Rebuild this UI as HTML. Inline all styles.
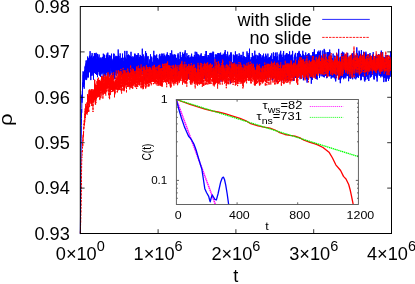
<!DOCTYPE html>
<html><head><meta charset="utf-8"><title>plot</title>
<style>html,body{margin:0;padding:0;background:#fff;}svg{display:block;will-change:transform;}text{font-family:"Liberation Sans", sans-serif;fill:#000;}</style></head><body>
<svg width="415" height="284" viewBox="0 0 415 284">
<rect x="0" y="0" width="415" height="284" fill="#fff"/>
<text x="69.8" y="12.7" font-size="18.2" text-anchor="end">0.98</text>
<text x="69.8" y="58.1" font-size="18.2" text-anchor="end">0.97</text>
<text x="69.8" y="103.5" font-size="18.2" text-anchor="end">0.96</text>
<text x="69.8" y="148.9" font-size="18.2" text-anchor="end">0.95</text>
<text x="69.8" y="194.3" font-size="18.2" text-anchor="end">0.94</text>
<text x="69.8" y="239.7" font-size="18.2" text-anchor="end">0.93</text>
<text x="80.3" y="259.7" font-size="18.2" text-anchor="middle">0×10<tspan font-size="14.5" dy="-8.3">0</tspan></text>
<text x="158.1" y="259.7" font-size="18.2" text-anchor="middle">1×10<tspan font-size="14.5" dy="-8.3">6</tspan></text>
<text x="235.9" y="259.7" font-size="18.2" text-anchor="middle">2×10<tspan font-size="14.5" dy="-8.3">6</tspan></text>
<text x="313.7" y="259.7" font-size="18.2" text-anchor="middle">3×10<tspan font-size="14.5" dy="-8.3">6</tspan></text>
<text x="391.5" y="259.7" font-size="18.2" text-anchor="middle">4×10<tspan font-size="14.5" dy="-8.3">6</tspan></text>
<text x="235.8" y="281.9" font-size="18.2" text-anchor="middle">t</text>
<text transform="translate(12.2,119.7) rotate(-90) scale(1.22,1)" font-size="18.2" text-anchor="middle">ρ</text>
<path d="M80.3,234.1L80.4,226.4L80.5,216.0L80.5,207.4L80.6,198.3L80.7,193.0L80.8,183.7L80.8,175.8L80.9,168.6L81.0,160.3L81.1,154.3L81.1,148.1L81.2,138.8L81.3,135.0L81.4,125.7L81.5,118.8L81.5,110.4L81.6,109.1L81.7,112.8L81.8,109.1L81.8,108.3L81.9,94.7L82.0,102.7L82.1,95.9L82.1,99.7L82.2,96.9L82.3,91.5L82.4,90.7L82.5,97.3L82.5,82.7L82.6,83.7L82.7,86.3L82.8,82.9L82.8,84.2L82.9,84.7L83.0,86.8L83.1,71.3L83.1,86.5L83.2,76.0L83.3,74.7L83.4,86.8L83.5,72.2L83.5,75.3L83.6,73.2L83.7,73.0L83.8,79.1L83.8,72.3L83.9,82.6L84.0,72.9L84.1,80.8L84.1,86.4L84.2,88.7L84.3,82.8L84.4,84.4L84.5,70.0L84.5,70.1L84.6,75.8L84.7,76.0L84.8,76.2L84.8,72.7L84.9,76.9L85.0,71.2L85.1,66.6L85.1,76.9L85.2,70.4L85.3,65.7L85.4,68.8L85.5,75.0L85.5,66.1L85.6,77.5L85.7,69.7L85.8,70.7L85.8,76.9L85.9,79.6L86.0,63.5L86.1,78.5L86.1,60.5L86.2,80.1L86.3,64.5L86.4,70.9L86.5,68.2L86.5,70.0L86.6,76.3L86.7,79.3L86.8,61.8L86.8,62.6L86.9,69.0L87.0,66.7L87.1,60.3L87.1,66.0L87.2,71.8L87.3,63.8L87.4,61.7L87.5,68.6L87.5,64.9L87.6,71.0L87.7,56.5L87.8,67.0L87.8,72.0L87.9,77.5L88.0,70.3L88.1,77.1L88.1,66.1L88.2,77.3L88.3,72.7L88.4,66.2L88.5,60.9L88.5,65.3L88.6,58.3L88.7,64.7L88.8,72.0L88.8,68.9L88.9,66.6L89.0,72.5L89.1,68.8L89.1,67.8L89.2,68.2L89.3,58.9L89.4,57.3L89.5,66.1L89.5,55.7L89.6,56.1L89.7,57.8L89.8,66.0L89.8,71.8L89.9,69.0L90.0,66.1L90.1,51.2L90.1,60.3L90.2,64.8L90.3,64.3L90.4,61.8L90.5,76.0L90.5,57.7L90.6,69.6L90.7,70.3L90.8,80.1L90.8,56.7L90.9,74.4L91.0,74.6L91.1,69.8L91.1,57.9L91.2,65.6L91.3,64.6L91.4,60.9L91.5,62.8L91.5,55.7L91.6,64.4L91.7,75.8L91.8,64.9L91.8,59.5L91.9,57.9L92.0,74.4L92.1,72.7L92.1,53.1L92.2,72.7L92.3,67.1L92.4,63.5L92.5,66.7L92.5,64.5L92.6,63.1L92.7,66.4L92.8,67.1L92.8,63.0L92.9,57.6L93.0,75.5L93.1,63.5L93.1,58.1L93.2,71.7L93.3,61.9L93.4,70.7L93.5,79.7L93.5,56.4L93.6,69.3L93.7,62.4L93.8,67.3L93.8,62.7L93.9,64.1L94.0,71.3L94.1,60.2L94.1,61.2L94.2,61.0L94.3,54.6L94.4,53.1L94.5,73.1L94.5,64.9L94.6,63.6L94.7,61.4L94.8,63.4L94.8,54.8L94.9,66.2L95.0,61.2L95.1,63.3L95.1,57.2L95.2,68.5L95.3,53.4L95.4,58.3L95.5,73.9L95.5,69.7L95.6,65.3L95.7,69.3L95.8,68.5L95.8,64.1L95.9,55.2L96.0,66.9L96.1,72.0L96.2,57.5L96.2,52.8L96.3,71.8L96.4,66.4L96.5,60.6L96.5,59.5L96.6,74.9L96.7,63.6L96.8,73.7L96.8,68.5L96.9,59.6L97.0,62.4L97.1,64.3L97.2,59.3L97.2,70.6L97.3,73.8L97.4,71.8L97.5,77.2L97.5,61.8L97.6,53.9L97.7,74.7L97.8,71.7L97.8,61.9L97.9,60.2L98.0,71.8L98.1,58.5L98.2,56.7L98.2,59.9L98.3,70.8L98.4,69.1L98.5,61.3L98.5,59.3L98.6,63.8L98.7,64.4L98.8,58.2L98.8,58.1L98.9,72.1L99.0,65.3L99.1,54.5L99.2,69.2L99.2,68.8L99.3,71.5L99.4,74.4L99.5,58.7L99.5,63.4L99.6,60.5L99.7,63.6L99.8,61.2L99.8,75.5L99.9,74.5L100.0,65.8L100.1,64.1L100.2,76.0L100.2,64.8L100.3,57.7L100.4,59.3L100.5,68.2L100.5,68.0L100.6,72.6L100.7,76.8L100.8,67.1L100.8,72.1L100.9,62.8L101.0,72.8L101.1,57.5L101.2,73.1L101.2,58.9L101.3,64.5L101.4,70.2L101.5,69.2L101.5,71.8L101.6,59.7L101.7,71.1L101.8,67.0L101.8,71.8L101.9,74.3L102.0,63.0L102.1,58.6L102.2,73.2L102.2,60.7L102.3,58.9L102.4,62.8L102.5,57.4L102.5,58.4L102.6,57.1L102.7,70.6L102.8,67.0L102.8,56.8L102.9,72.4L103.0,68.4L103.1,62.1L103.2,66.0L103.2,79.4L103.3,53.7L103.4,55.3L103.5,56.0L103.5,72.3L103.6,61.4L103.7,71.2L103.8,64.4L103.8,70.6L103.9,62.7L104.0,64.9L104.1,63.4L104.2,65.1L104.2,61.9L104.3,57.5L104.4,54.7L104.5,55.1L104.5,67.7L104.6,75.7L104.7,70.6L104.8,66.6L104.8,76.1L104.9,65.8L105.0,67.9L105.1,73.2L105.2,71.9L105.2,58.0L105.3,68.5L105.4,63.1L105.5,73.3L105.5,70.5L105.6,76.5L105.7,72.9L105.8,71.1L105.8,60.4L105.9,75.8L106.0,59.0L106.1,67.0L106.2,71.9L106.2,58.2L106.3,55.4L106.4,56.9L106.5,60.2L106.5,58.2L106.6,57.4L106.7,73.0L106.8,55.5L106.8,58.6L106.9,56.4L107.0,68.7L107.1,53.5L107.2,61.8L107.2,65.6L107.3,58.6L107.4,59.2L107.5,71.9L107.5,68.9L107.6,75.0L107.7,55.4L107.8,58.3L107.8,52.6L107.9,73.9L108.0,67.5L108.1,57.9L108.2,60.6L108.2,57.3L108.3,59.0L108.4,65.3L108.5,60.3L108.5,72.2L108.6,62.4L108.7,73.7L108.8,74.4L108.8,74.7L108.9,61.7L109.0,77.1L109.1,70.0L109.2,70.5L109.2,55.1L109.3,73.9L109.4,72.4L109.5,74.3L109.5,56.2L109.6,56.5L109.7,56.2L109.8,68.4L109.8,75.6L109.9,68.5L110.0,69.4L110.1,74.6L110.2,75.3L110.2,61.6L110.3,67.9L110.4,61.8L110.5,62.0L110.5,64.4L110.6,58.2L110.7,55.7L110.8,56.9L110.8,62.5L110.9,68.4L111.0,62.3L111.1,69.6L111.2,66.7L111.2,62.8L111.3,70.8L111.4,59.4L111.5,71.0L111.5,53.7L111.6,55.0L111.7,69.0L111.8,71.5L111.8,58.6L111.9,67.8L112.0,73.0L112.1,66.9L112.2,69.5L112.2,79.4L112.3,76.0L112.4,65.1L112.5,61.2L112.5,68.8L112.6,61.9L112.7,73.3L112.8,59.6L112.8,65.2L112.9,73.0L113.0,77.8L113.1,64.3L113.2,61.1L113.2,63.0L113.3,66.3L113.4,71.9L113.5,57.9L113.5,74.9L113.6,69.4L113.7,56.1L113.8,53.5L113.8,57.6L113.9,73.3L114.0,55.3L114.1,54.1L114.2,68.9L114.2,77.6L114.3,57.4L114.4,65.4L114.5,68.8L114.5,69.2L114.6,62.1L114.7,68.9L114.8,75.6L114.8,79.3L114.9,60.4L115.0,67.0L115.1,68.2L115.2,63.7L115.2,67.8L115.3,72.9L115.4,69.2L115.5,72.6L115.5,70.1L115.6,57.2L115.7,64.0L115.8,62.2L115.8,55.8L115.9,69.1L116.0,75.2L116.1,68.5L116.2,70.8L116.2,61.9L116.3,67.3L116.4,67.0L116.5,56.5L116.5,71.1L116.6,68.8L116.7,67.4L116.8,64.0L116.8,75.9L116.9,64.0L117.0,66.7L117.1,56.8L117.2,60.1L117.2,56.2L117.3,72.7L117.4,59.5L117.5,72.7L117.5,62.9L117.6,65.6L117.7,62.2L117.8,60.7L117.8,59.8L117.9,68.1L118.0,60.2L118.1,74.1L118.2,50.9L118.2,49.5L118.3,60.3L118.4,66.3L118.5,55.0L118.5,65.0L118.6,72.9L118.7,67.4L118.8,72.2L118.8,63.5L118.9,63.0L119.0,56.0L119.1,60.8L119.2,75.8L119.2,67.6L119.3,72.3L119.4,63.1L119.5,59.8L119.5,58.8L119.6,64.5L119.7,60.5L119.8,65.7L119.8,66.0L119.9,74.6L120.0,71.4L120.1,63.8L120.2,53.4L120.2,73.2L120.3,61.6L120.4,58.7L120.5,74.1L120.5,65.7L120.6,73.0L120.7,69.3L120.8,62.9L120.8,67.1L120.9,67.8L121.0,60.9L121.1,61.2L121.2,72.7L121.2,69.3L121.3,70.8L121.4,58.3L121.5,58.3L121.5,63.5L121.6,75.4L121.7,68.6L121.8,66.9L121.8,57.8L121.9,71.5L122.0,75.5L122.1,72.8L122.2,65.4L122.2,62.0L122.3,69.8L122.4,70.9L122.5,62.3L122.5,53.6L122.6,74.3L122.7,74.1L122.8,62.7L122.8,58.2L122.9,68.2L123.0,67.3L123.1,72.0L123.2,64.0L123.2,61.2L123.3,71.4L123.4,73.9L123.5,62.7L123.5,63.2L123.6,72.5L123.7,69.8L123.8,61.3L123.8,65.6L123.9,71.8L124.0,57.8L124.1,76.0L124.2,72.6L124.2,63.6L124.3,57.4L124.4,74.0L124.5,57.3L124.5,68.0L124.6,72.3L124.7,55.5L124.8,71.0L124.8,50.9L124.9,76.1L125.0,63.2L125.1,65.2L125.2,73.0L125.2,73.6L125.3,58.2L125.4,57.6L125.5,73.8L125.5,63.1L125.6,67.5L125.7,75.2L125.8,76.7L125.8,67.2L125.9,78.3L126.0,78.8L126.1,61.7L126.2,75.7L126.2,68.8L126.3,58.8L126.4,64.0L126.5,62.6L126.5,79.1L126.6,74.9L126.7,61.6L126.8,62.7L126.8,54.6L126.9,50.9L127.0,57.9L127.1,60.1L127.2,74.0L127.2,73.6L127.3,61.9L127.4,55.2L127.5,58.2L127.5,68.6L127.6,61.4L127.7,67.8L127.8,64.4L127.9,62.8L127.9,58.7L128.0,76.3L128.1,63.3L128.2,55.9L128.2,65.5L128.3,71.1L128.4,58.7L128.5,74.0L128.5,54.5L128.6,77.3L128.7,66.6L128.8,56.6L128.9,63.6L128.9,72.1L129.0,76.5L129.1,71.7L129.2,75.7L129.2,70.5L129.3,59.2L129.4,55.4L129.5,63.7L129.5,62.1L129.6,62.5L129.7,57.3L129.8,67.5L129.9,75.3L129.9,67.2L130.0,59.0L130.1,62.1L130.2,71.7L130.2,70.3L130.3,61.3L130.4,63.6L130.5,66.3L130.5,58.3L130.6,56.2L130.7,74.2L130.8,61.2L130.9,64.6L130.9,68.2L131.0,51.8L131.1,77.3L131.2,57.3L131.2,70.8L131.3,70.1L131.4,58.7L131.5,70.7L131.5,63.5L131.6,57.4L131.7,59.2L131.8,64.9L131.9,71.1L131.9,75.4L132.0,60.3L132.1,66.8L132.2,69.0L132.2,60.2L132.3,60.8L132.4,57.9L132.5,66.8L132.5,58.3L132.6,62.2L132.7,68.9L132.8,56.8L132.9,56.2L132.9,69.6L133.0,76.9L133.1,62.9L133.2,67.6L133.2,61.7L133.3,70.4L133.4,59.3L133.5,63.2L133.5,58.4L133.6,60.8L133.7,76.2L133.8,76.8L133.9,66.0L133.9,57.0L134.0,58.0L134.1,72.2L134.2,65.5L134.2,73.6L134.3,57.2L134.4,67.3L134.5,53.8L134.5,71.4L134.6,72.4L134.7,67.0L134.8,67.3L134.9,76.8L134.9,61.1L135.0,72.4L135.1,53.7L135.2,63.4L135.2,71.8L135.3,70.9L135.4,62.7L135.5,73.3L135.5,67.2L135.6,63.9L135.7,59.2L135.8,65.9L135.9,73.6L135.9,71.2L136.0,56.0L136.1,55.0L136.2,76.1L136.2,57.2L136.3,78.5L136.4,58.5L136.5,59.6L136.5,76.5L136.6,69.7L136.7,74.6L136.8,74.9L136.9,55.2L136.9,60.6L137.0,57.8L137.1,63.6L137.2,57.1L137.2,63.5L137.3,63.1L137.4,59.0L137.5,61.7L137.5,72.9L137.6,71.1L137.7,54.9L137.8,62.7L137.9,61.9L137.9,75.9L138.0,66.6L138.1,60.4L138.2,58.1L138.2,53.1L138.3,65.5L138.4,62.4L138.5,75.8L138.5,70.0L138.6,64.5L138.7,59.4L138.8,72.2L138.9,58.9L138.9,61.6L139.0,62.3L139.1,61.0L139.2,68.3L139.2,71.8L139.3,56.9L139.4,74.6L139.5,61.7L139.5,73.4L139.6,69.6L139.7,70.4L139.8,59.6L139.9,72.6L139.9,57.6L140.0,62.2L140.1,54.9L140.2,57.1L140.2,74.8L140.3,74.8L140.4,72.0L140.5,55.7L140.5,68.2L140.6,69.1L140.7,72.4L140.8,65.4L140.9,63.0L140.9,63.0L141.0,73.9L141.1,73.8L141.2,72.4L141.2,73.7L141.3,56.1L141.4,71.0L141.5,62.6L141.5,74.7L141.6,63.8L141.7,56.7L141.8,65.0L141.9,58.3L141.9,61.1L142.0,73.9L142.1,74.3L142.2,67.2L142.2,60.1L142.3,48.7L142.4,57.4L142.5,61.3L142.5,66.3L142.6,68.2L142.7,70.0L142.8,70.6L142.9,62.4L142.9,68.7L143.0,59.0L143.1,57.1L143.2,61.9L143.2,68.1L143.3,54.5L143.4,74.1L143.5,76.2L143.5,75.4L143.6,65.9L143.7,64.3L143.8,63.6L143.9,73.4L143.9,72.6L144.0,66.8L144.1,73.4L144.2,63.4L144.2,76.9L144.3,72.9L144.4,79.7L144.5,65.7L144.5,77.6L144.6,77.1L144.7,61.0L144.8,58.2L144.9,70.2L144.9,64.6L145.0,75.7L145.1,56.9L145.2,58.1L145.2,56.0L145.3,57.9L145.4,53.5L145.5,54.7L145.5,56.5L145.6,51.2L145.7,62.6L145.8,63.3L145.9,57.3L145.9,64.5L146.0,57.3L146.1,77.7L146.2,60.1L146.2,73.0L146.3,61.7L146.4,77.4L146.5,61.0L146.5,53.3L146.6,59.7L146.7,55.6L146.8,75.8L146.9,77.1L146.9,59.8L147.0,57.3L147.1,71.2L147.2,76.7L147.2,72.4L147.3,73.0L147.4,62.7L147.5,57.0L147.5,63.8L147.6,56.8L147.7,69.5L147.8,71.3L147.9,64.2L147.9,71.4L148.0,68.5L148.1,56.2L148.2,65.1L148.2,71.9L148.3,63.8L148.4,72.9L148.5,74.2L148.5,77.6L148.6,69.3L148.7,66.4L148.8,69.2L148.9,70.2L148.9,76.9L149.0,72.5L149.1,74.3L149.2,78.1L149.2,65.0L149.3,76.4L149.4,63.4L149.5,66.5L149.5,60.8L149.6,59.5L149.7,60.4L149.8,73.5L149.9,61.5L149.9,61.8L150.0,70.7L150.1,67.1L150.2,63.0L150.2,61.0L150.3,59.7L150.4,58.5L150.5,54.3L150.5,62.4L150.6,66.2L150.7,64.2L150.8,69.9L150.9,75.0L150.9,67.3L151.0,66.4L151.1,77.7L151.2,59.0L151.2,72.1L151.3,61.6L151.4,67.8L151.5,76.4L151.5,58.6L151.6,76.4L151.7,56.6L151.8,73.8L151.9,64.0L151.9,64.0L152.0,61.7L152.1,78.8L152.2,69.9L152.2,68.5L152.3,67.8L152.4,66.3L152.5,62.7L152.5,63.1L152.6,78.4L152.7,62.4L152.8,68.8L152.9,69.5L152.9,75.6L153.0,62.3L153.1,74.6L153.2,73.5L153.2,57.9L153.3,58.2L153.4,77.7L153.5,58.8L153.5,56.6L153.6,58.1L153.7,59.8L153.8,50.8L153.9,64.2L153.9,71.1L154.0,72.4L154.1,72.8L154.2,76.0L154.2,76.5L154.3,66.7L154.4,75.3L154.5,73.9L154.5,55.3L154.6,61.7L154.7,60.3L154.8,60.5L154.9,64.0L154.9,64.7L155.0,63.3L155.1,59.6L155.2,61.4L155.2,71.6L155.3,61.8L155.4,57.2L155.5,76.6L155.5,62.0L155.6,77.5L155.7,70.3L155.8,58.6L155.9,56.0L155.9,72.4L156.0,62.8L156.1,55.6L156.2,69.4L156.2,55.7L156.3,55.2L156.4,66.9L156.5,57.6L156.5,68.5L156.6,67.3L156.7,54.5L156.8,77.1L156.9,63.1L156.9,70.4L157.0,69.8L157.1,61.3L157.2,76.7L157.2,58.0L157.3,58.3L157.4,75.9L157.5,58.1L157.5,62.7L157.6,71.8L157.7,63.4L157.8,65.1L157.9,63.3L157.9,75.8L158.0,68.5L158.1,66.4L158.2,74.8L158.2,71.4L158.3,59.9L158.4,76.1L158.5,73.2L158.6,73.9L158.6,67.1L158.7,77.8L158.8,60.0L158.9,62.5L158.9,65.0L159.0,58.7L159.1,62.6L159.2,69.7L159.2,68.7L159.3,55.1L159.4,66.4L159.5,56.5L159.6,55.7L159.6,60.3L159.7,69.2L159.8,53.9L159.9,67.6L159.9,67.0L160.0,72.3L160.1,63.7L160.2,78.3L160.2,59.8L160.3,73.1L160.4,66.8L160.5,69.6L160.6,64.2L160.6,57.2L160.7,63.2L160.8,65.8L160.9,68.6L160.9,55.9L161.0,63.3L161.1,74.3L161.2,72.7L161.2,64.1L161.3,67.0L161.4,70.5L161.5,76.0L161.6,55.8L161.6,64.3L161.7,66.2L161.8,61.6L161.9,53.5L161.9,65.9L162.0,61.5L162.1,61.8L162.2,53.9L162.2,67.6L162.3,60.3L162.4,69.9L162.5,67.8L162.6,55.8L162.6,76.2L162.7,68.8L162.8,61.5L162.9,69.2L162.9,59.6L163.0,77.5L163.1,68.1L163.2,62.3L163.2,76.9L163.3,69.6L163.4,59.6L163.5,70.6L163.6,56.5L163.6,71.2L163.7,61.1L163.8,72.8L163.9,53.5L163.9,60.6L164.0,68.4L164.1,76.1L164.2,60.0L164.2,76.6L164.3,56.0L164.4,63.4L164.5,67.9L164.6,68.8L164.6,66.2L164.7,55.0L164.8,68.5L164.9,71.3L164.9,69.9L165.0,70.7L165.1,63.0L165.2,62.0L165.2,59.7L165.3,70.4L165.4,56.4L165.5,73.4L165.6,73.4L165.6,65.4L165.7,66.6L165.8,64.2L165.9,74.3L165.9,78.1L166.0,59.7L166.1,70.8L166.2,75.2L166.2,63.8L166.3,65.1L166.4,54.5L166.5,63.0L166.6,67.6L166.6,67.7L166.7,73.4L166.8,73.4L166.9,61.2L166.9,63.6L167.0,57.7L167.1,62.5L167.2,59.0L167.2,68.8L167.3,52.4L167.4,70.1L167.5,55.3L167.6,72.8L167.6,68.6L167.7,64.4L167.8,73.2L167.9,59.8L167.9,57.8L168.0,59.2L168.1,64.1L168.2,63.5L168.2,77.1L168.3,64.5L168.4,55.1L168.5,60.4L168.6,66.2L168.6,73.5L168.7,65.6L168.8,76.4L168.9,68.8L168.9,70.8L169.0,65.9L169.1,61.5L169.2,55.6L169.2,66.7L169.3,70.8L169.4,75.2L169.5,71.1L169.6,65.2L169.6,57.0L169.7,67.1L169.8,76.7L169.9,69.5L169.9,69.8L170.0,75.5L170.1,56.8L170.2,59.4L170.2,70.5L170.3,53.1L170.4,64.0L170.5,73.3L170.6,70.7L170.6,58.4L170.7,56.2L170.8,78.6L170.9,63.9L170.9,65.3L171.0,70.0L171.1,69.2L171.2,62.1L171.2,70.4L171.3,73.2L171.4,61.4L171.5,70.4L171.6,63.5L171.6,79.2L171.7,50.4L171.8,70.5L171.9,65.9L171.9,71.9L172.0,60.8L172.1,76.1L172.2,63.5L172.2,68.2L172.3,54.5L172.4,59.4L172.5,75.8L172.6,55.3L172.6,64.3L172.7,56.3L172.8,60.1L172.9,70.7L172.9,78.2L173.0,66.4L173.1,74.6L173.2,72.5L173.2,74.4L173.3,59.2L173.4,73.7L173.5,76.2L173.6,77.9L173.6,56.6L173.7,59.2L173.8,54.6L173.9,57.0L173.9,59.8L174.0,69.0L174.1,66.9L174.2,58.5L174.2,73.3L174.3,60.8L174.4,80.7L174.5,63.7L174.6,54.5L174.6,60.8L174.7,55.5L174.8,58.4L174.9,70.8L174.9,61.3L175.0,54.6L175.1,64.0L175.2,62.1L175.2,61.1L175.3,72.3L175.4,58.4L175.5,67.4L175.6,55.0L175.6,65.6L175.7,69.6L175.8,61.1L175.9,57.6L175.9,68.0L176.0,77.8L176.1,69.3L176.2,65.0L176.2,69.2L176.3,61.3L176.4,58.1L176.5,73.0L176.6,72.1L176.6,64.5L176.7,69.5L176.8,73.1L176.9,70.9L176.9,77.0L177.0,69.9L177.1,66.8L177.2,74.4L177.2,71.0L177.3,76.4L177.4,74.8L177.5,64.9L177.6,69.9L177.6,72.1L177.7,62.9L177.8,60.1L177.9,72.9L177.9,54.6L178.0,62.6L178.1,53.3L178.2,69.4L178.2,71.4L178.3,74.5L178.4,66.3L178.5,73.7L178.6,69.7L178.6,59.0L178.7,55.7L178.8,65.7L178.9,63.4L178.9,70.7L179.0,76.3L179.1,67.4L179.2,68.0L179.2,59.0L179.3,59.7L179.4,74.8L179.5,64.7L179.6,62.6L179.6,66.7L179.7,65.8L179.8,66.7L179.9,64.6L179.9,67.2L180.0,75.7L180.1,73.1L180.2,66.3L180.2,51.9L180.3,70.9L180.4,65.2L180.5,58.4L180.6,71.1L180.6,63.1L180.7,55.3L180.8,71.3L180.9,57.2L180.9,74.6L181.0,72.0L181.1,59.2L181.2,64.8L181.2,60.8L181.3,59.9L181.4,60.6L181.5,64.9L181.6,58.0L181.6,63.1L181.7,59.9L181.8,70.4L181.9,60.9L181.9,57.1L182.0,67.9L182.1,60.1L182.2,73.9L182.2,65.9L182.3,78.7L182.4,55.4L182.5,55.0L182.6,68.0L182.6,58.8L182.7,52.5L182.8,68.9L182.9,74.5L182.9,60.2L183.0,64.7L183.1,54.2L183.2,71.7L183.2,75.7L183.3,54.1L183.4,57.0L183.5,57.4L183.6,69.1L183.6,72.8L183.7,77.8L183.8,58.8L183.9,61.4L183.9,67.9L184.0,61.6L184.1,76.3L184.2,64.6L184.2,59.1L184.3,53.9L184.4,75.0L184.5,55.0L184.6,74.3L184.6,52.7L184.7,69.8L184.8,57.8L184.9,73.4L184.9,70.7L185.0,73.4L185.1,55.1L185.2,50.3L185.2,74.7L185.3,68.3L185.4,58.4L185.5,63.3L185.6,73.1L185.6,57.1L185.7,68.0L185.8,57.3L185.9,63.4L185.9,69.6L186.0,60.3L186.1,68.6L186.2,63.7L186.2,68.8L186.3,67.9L186.4,62.0L186.5,62.2L186.6,64.5L186.6,58.2L186.7,70.5L186.8,60.3L186.9,53.2L186.9,79.3L187.0,60.2L187.1,59.2L187.2,74.2L187.2,65.8L187.3,73.8L187.4,72.0L187.5,63.3L187.6,70.5L187.6,56.1L187.7,71.1L187.8,61.0L187.9,70.2L187.9,68.7L188.0,59.5L188.1,61.0L188.2,64.5L188.2,58.8L188.3,66.7L188.4,56.8L188.5,66.2L188.6,78.8L188.6,73.3L188.7,71.3L188.8,55.0L188.9,67.5L188.9,63.2L189.0,63.2L189.1,75.5L189.2,61.1L189.3,61.4L189.3,69.9L189.4,58.0L189.5,68.6L189.6,57.6L189.6,65.2L189.7,59.3L189.8,74.6L189.9,58.1L189.9,77.1L190.0,59.8L190.1,60.0L190.2,77.8L190.3,68.2L190.3,70.7L190.4,57.1L190.5,74.7L190.6,68.8L190.6,73.6L190.7,73.6L190.8,60.2L190.9,73.5L190.9,65.7L191.0,74.4L191.1,73.3L191.2,55.7L191.3,64.6L191.3,61.0L191.4,62.5L191.5,75.2L191.6,53.7L191.6,61.0L191.7,71.6L191.8,56.2L191.9,59.5L191.9,63.4L192.0,71.4L192.1,79.6L192.2,67.2L192.3,65.8L192.3,76.7L192.4,68.3L192.5,62.6L192.6,71.9L192.6,62.5L192.7,56.9L192.8,61.1L192.9,63.0L192.9,66.2L193.0,59.7L193.1,74.2L193.2,63.6L193.3,75.4L193.3,77.2L193.4,74.4L193.5,76.0L193.6,57.3L193.6,56.8L193.7,60.6L193.8,66.6L193.9,59.3L193.9,73.6L194.0,69.5L194.1,57.1L194.2,58.3L194.3,67.4L194.3,71.0L194.4,55.0L194.5,70.0L194.6,66.3L194.6,77.5L194.7,68.7L194.8,56.3L194.9,76.6L194.9,67.4L195.0,77.9L195.1,66.2L195.2,51.7L195.3,72.5L195.3,56.9L195.4,57.2L195.5,72.1L195.6,75.4L195.6,70.5L195.7,73.8L195.8,61.1L195.9,64.9L195.9,58.2L196.0,61.5L196.1,74.6L196.2,68.5L196.3,63.0L196.3,57.9L196.4,58.7L196.5,58.5L196.6,56.9L196.6,62.2L196.7,51.9L196.8,76.6L196.9,74.6L196.9,59.3L197.0,60.5L197.1,57.9L197.2,53.7L197.3,71.2L197.3,60.2L197.4,74.7L197.5,63.9L197.6,65.1L197.6,60.7L197.7,72.3L197.8,70.4L197.9,59.1L197.9,76.4L198.0,65.4L198.1,57.0L198.2,69.5L198.3,54.4L198.3,60.7L198.4,58.1L198.5,56.2L198.6,57.4L198.6,71.6L198.7,64.0L198.8,55.6L198.9,55.0L198.9,71.0L199.0,64.0L199.1,61.3L199.2,75.9L199.3,59.3L199.3,76.7L199.4,70.8L199.5,57.7L199.6,64.9L199.6,73.5L199.7,69.3L199.8,57.8L199.9,57.9L199.9,67.4L200.0,56.0L200.1,63.0L200.2,66.8L200.3,54.7L200.3,73.6L200.4,66.5L200.5,75.1L200.6,68.0L200.6,64.1L200.7,56.3L200.8,60.6L200.9,59.6L200.9,71.4L201.0,72.1L201.1,58.9L201.2,53.3L201.3,70.9L201.3,71.8L201.4,71.1L201.5,69.9L201.6,57.6L201.6,55.9L201.7,72.2L201.8,66.4L201.9,56.0L201.9,65.0L202.0,82.0L202.1,57.9L202.2,71.7L202.3,78.1L202.3,64.8L202.4,80.0L202.5,59.2L202.6,62.9L202.6,56.5L202.7,59.9L202.8,64.2L202.9,67.3L202.9,71.6L203.0,62.1L203.1,56.6L203.2,66.4L203.3,64.0L203.3,56.0L203.4,70.5L203.5,72.8L203.6,59.1L203.6,66.3L203.7,73.2L203.8,69.1L203.9,67.9L203.9,56.3L204.0,61.3L204.1,63.8L204.2,67.7L204.3,58.2L204.3,56.1L204.4,78.3L204.5,73.4L204.6,66.4L204.6,68.3L204.7,73.3L204.8,72.1L204.9,56.6L204.9,57.9L205.0,78.9L205.1,63.0L205.2,54.2L205.3,66.5L205.3,62.9L205.4,57.5L205.5,62.8L205.6,69.9L205.6,58.5L205.7,75.6L205.8,57.3L205.9,74.8L205.9,56.5L206.0,76.5L206.1,51.0L206.2,55.6L206.3,51.0L206.3,69.4L206.4,62.6L206.5,60.5L206.6,57.7L206.6,61.7L206.7,77.3L206.8,63.6L206.9,62.6L206.9,58.3L207.0,55.1L207.1,64.7L207.2,57.3L207.3,66.9L207.3,68.7L207.4,58.1L207.5,64.1L207.6,73.1L207.6,58.4L207.7,63.6L207.8,58.3L207.9,71.6L207.9,66.3L208.0,71.3L208.1,73.9L208.2,74.9L208.3,62.9L208.3,72.7L208.4,72.9L208.5,55.1L208.6,66.9L208.6,69.5L208.7,65.9L208.8,73.4L208.9,57.8L208.9,72.7L209.0,72.8L209.1,69.8L209.2,76.6L209.3,61.9L209.3,73.9L209.4,66.7L209.5,61.6L209.6,60.1L209.6,66.3L209.7,72.6L209.8,56.6L209.9,71.3L209.9,53.2L210.0,74.8L210.1,64.2L210.2,63.4L210.3,71.9L210.3,56.7L210.4,52.9L210.5,71.7L210.6,53.5L210.6,60.9L210.7,71.2L210.8,65.2L210.9,70.1L210.9,73.6L211.0,53.2L211.1,63.2L211.2,54.7L211.3,74.5L211.3,69.5L211.4,69.9L211.5,56.4L211.6,73.6L211.6,67.2L211.7,66.1L211.8,64.1L211.9,57.1L211.9,54.3L212.0,52.8L212.1,67.4L212.2,73.5L212.3,55.2L212.3,73.1L212.4,59.8L212.5,59.3L212.6,61.6L212.6,72.5L212.7,54.1L212.8,55.2L212.9,71.0L212.9,51.6L213.0,75.3L213.1,74.9L213.2,68.6L213.3,58.9L213.3,67.0L213.4,68.2L213.5,53.2L213.6,51.9L213.6,62.8L213.7,62.4L213.8,74.9L213.9,73.5L213.9,72.0L214.0,73.2L214.1,63.2L214.2,73.2L214.3,73.3L214.3,62.4L214.4,70.0L214.5,63.7L214.6,61.9L214.6,78.4L214.7,70.7L214.8,67.3L214.9,80.0L214.9,77.9L215.0,58.1L215.1,57.2L215.2,75.7L215.3,54.4L215.3,61.0L215.4,68.9L215.5,58.9L215.6,74.6L215.6,66.5L215.7,65.7L215.8,75.6L215.9,62.9L215.9,70.0L216.0,77.4L216.1,69.2L216.2,68.3L216.3,72.0L216.3,54.4L216.4,74.0L216.5,66.3L216.6,55.2L216.6,63.5L216.7,66.3L216.8,60.7L216.9,55.7L216.9,72.0L217.0,75.0L217.1,62.9L217.2,71.3L217.3,58.8L217.3,71.7L217.4,78.7L217.5,69.4L217.6,62.7L217.6,55.5L217.7,73.5L217.8,62.8L217.9,70.9L217.9,53.0L218.0,64.7L218.1,70.3L218.2,53.8L218.3,57.3L218.3,59.3L218.4,69.0L218.5,64.8L218.6,67.9L218.6,69.2L218.7,53.9L218.8,56.4L218.9,61.8L218.9,53.0L219.0,66.9L219.1,59.0L219.2,67.2L219.3,68.5L219.3,68.7L219.4,73.1L219.5,66.4L219.6,60.6L219.6,54.8L219.7,61.9L219.8,73.5L219.9,80.1L219.9,53.6L220.0,60.0L220.1,57.8L220.2,55.0L220.3,60.6L220.3,65.0L220.4,62.2L220.5,79.1L220.6,52.6L220.6,74.7L220.7,69.0L220.8,61.4L220.9,75.8L221.0,81.7L221.0,54.7L221.1,78.0L221.2,55.1L221.3,55.2L221.3,62.4L221.4,57.2L221.5,58.7L221.6,64.8L221.6,72.1L221.7,55.7L221.8,70.6L221.9,77.4L222.0,63.4L222.0,72.2L222.1,59.4L222.2,62.4L222.3,74.2L222.3,55.2L222.4,78.2L222.5,80.4L222.6,71.1L222.6,72.9L222.7,55.3L222.8,55.8L222.9,60.9L223.0,67.8L223.0,73.9L223.1,55.9L223.2,53.7L223.3,63.6L223.3,70.6L223.4,64.0L223.5,55.8L223.6,72.9L223.6,70.4L223.7,63.3L223.8,75.3L223.9,76.6L224.0,54.5L224.0,74.0L224.1,68.3L224.2,66.9L224.3,55.5L224.3,72.9L224.4,79.4L224.5,65.4L224.6,52.3L224.6,71.0L224.7,72.2L224.8,75.1L224.9,66.9L225.0,59.2L225.0,55.2L225.1,65.0L225.2,50.1L225.3,65.1L225.3,75.3L225.4,64.9L225.5,57.7L225.6,56.0L225.6,68.2L225.7,54.6L225.8,56.4L225.9,67.0L226.0,54.2L226.0,57.2L226.1,76.5L226.2,71.0L226.3,56.7L226.3,72.9L226.4,71.8L226.5,59.4L226.6,66.3L226.6,65.8L226.7,63.2L226.8,68.2L226.9,66.1L227.0,56.2L227.0,62.6L227.1,70.5L227.2,67.3L227.3,67.3L227.3,67.7L227.4,68.3L227.5,74.0L227.6,63.8L227.6,51.7L227.7,69.5L227.8,59.0L227.9,73.0L228.0,57.5L228.0,70.2L228.1,63.6L228.2,75.8L228.3,60.5L228.3,74.0L228.4,61.7L228.5,71.1L228.6,63.5L228.6,60.7L228.7,66.3L228.8,69.8L228.9,56.3L229.0,69.9L229.0,64.8L229.1,61.3L229.2,54.8L229.3,77.2L229.3,71.1L229.4,57.9L229.5,74.0L229.6,76.9L229.6,68.1L229.7,65.8L229.8,70.8L229.9,69.7L230.0,66.6L230.0,58.4L230.1,67.1L230.2,81.5L230.3,79.9L230.3,66.4L230.4,59.3L230.5,83.6L230.6,70.6L230.6,56.8L230.7,61.3L230.8,71.1L230.9,52.7L231.0,61.5L231.0,52.3L231.1,65.5L231.2,54.1L231.3,75.9L231.3,65.1L231.4,63.1L231.5,63.5L231.6,68.9L231.6,65.6L231.7,62.0L231.8,69.2L231.9,65.3L232.0,62.7L232.0,73.2L232.1,72.2L232.2,62.9L232.3,66.4L232.3,66.8L232.4,77.9L232.5,63.3L232.6,65.4L232.6,70.8L232.7,62.2L232.8,75.8L232.9,67.3L233.0,63.7L233.0,78.7L233.1,67.1L233.2,77.6L233.3,54.6L233.3,57.4L233.4,70.9L233.5,56.0L233.6,71.5L233.6,61.5L233.7,76.7L233.8,66.0L233.9,55.2L234.0,60.7L234.0,67.4L234.1,59.3L234.2,56.1L234.3,71.2L234.3,63.6L234.4,67.7L234.5,64.0L234.6,59.0L234.6,67.9L234.7,56.4L234.8,71.7L234.9,68.5L235.0,55.4L235.0,70.9L235.1,62.7L235.2,75.6L235.3,61.8L235.3,69.7L235.4,51.4L235.5,65.6L235.6,55.2L235.6,74.9L235.7,60.4L235.8,69.7L235.9,70.5L236.0,54.9L236.0,63.9L236.1,77.5L236.2,64.9L236.3,55.1L236.3,75.7L236.4,73.7L236.5,73.2L236.6,60.5L236.6,65.4L236.7,59.7L236.8,69.9L236.9,55.4L237.0,72.6L237.0,54.2L237.1,66.7L237.2,63.6L237.3,74.9L237.3,69.2L237.4,62.5L237.5,64.1L237.6,63.4L237.6,71.0L237.7,62.8L237.8,76.2L237.9,57.8L238.0,76.1L238.0,76.0L238.1,76.0L238.2,64.2L238.3,71.9L238.3,71.0L238.4,64.2L238.5,76.9L238.6,71.9L238.6,67.6L238.7,57.9L238.8,56.0L238.9,62.3L239.0,72.9L239.0,56.5L239.1,69.3L239.2,53.3L239.3,75.8L239.3,74.9L239.4,56.7L239.5,66.2L239.6,65.6L239.6,72.4L239.7,60.0L239.8,64.6L239.9,61.5L240.0,56.6L240.0,60.9L240.1,70.1L240.2,71.7L240.3,75.6L240.3,75.7L240.4,65.0L240.5,79.0L240.6,59.1L240.6,74.6L240.7,61.8L240.8,63.6L240.9,54.8L241.0,64.1L241.0,57.0L241.1,73.4L241.2,63.9L241.3,71.3L241.3,70.6L241.4,66.2L241.5,57.4L241.6,58.6L241.6,74.8L241.7,66.0L241.8,55.0L241.9,75.0L242.0,67.1L242.0,76.7L242.1,60.3L242.2,57.6L242.3,65.2L242.3,61.7L242.4,77.9L242.5,64.6L242.6,78.8L242.6,64.1L242.7,68.6L242.8,76.3L242.9,75.6L243.0,78.7L243.0,55.2L243.1,51.8L243.2,55.7L243.3,70.1L243.3,70.6L243.4,65.5L243.5,62.0L243.6,74.7L243.6,74.3L243.7,69.4L243.8,78.6L243.9,56.1L244.0,74.4L244.0,59.5L244.1,64.4L244.2,56.5L244.3,56.7L244.3,70.1L244.4,73.9L244.5,62.4L244.6,75.2L244.6,63.9L244.7,58.4L244.8,70.6L244.9,78.2L245.0,71.6L245.0,71.7L245.1,73.7L245.2,57.0L245.3,65.5L245.3,63.5L245.4,68.0L245.5,59.4L245.6,66.9L245.6,66.1L245.7,66.6L245.8,73.5L245.9,72.6L246.0,69.3L246.0,63.6L246.1,64.6L246.2,58.3L246.3,65.5L246.3,66.6L246.4,63.6L246.5,71.2L246.6,70.4L246.6,76.6L246.7,57.2L246.8,59.6L246.9,72.6L247.0,51.4L247.0,65.2L247.1,63.2L247.2,66.9L247.3,62.2L247.3,71.7L247.4,63.3L247.5,73.7L247.6,60.2L247.6,61.3L247.7,76.9L247.8,71.9L247.9,64.0L248.0,62.7L248.0,53.1L248.1,60.5L248.2,70.4L248.3,64.1L248.3,57.0L248.4,55.2L248.5,59.7L248.6,72.6L248.6,70.1L248.7,62.7L248.8,67.1L248.9,74.3L249.0,57.9L249.0,61.5L249.1,74.9L249.2,72.8L249.3,61.0L249.3,75.3L249.4,62.3L249.5,48.7L249.6,74.6L249.6,62.3L249.7,69.9L249.8,57.1L249.9,59.0L250.0,62.5L250.0,64.9L250.1,74.9L250.2,62.1L250.3,64.7L250.3,71.2L250.4,71.6L250.5,59.6L250.6,74.4L250.6,77.8L250.7,61.4L250.8,63.1L250.9,77.6L251.0,74.2L251.0,66.3L251.1,72.1L251.2,66.1L251.3,76.2L251.3,70.5L251.4,72.1L251.5,62.7L251.6,75.5L251.7,65.9L251.7,57.2L251.8,60.6L251.9,58.5L252.0,62.2L252.0,73.1L252.1,76.0L252.2,75.0L252.3,75.2L252.3,53.0L252.4,55.4L252.5,59.4L252.6,65.5L252.7,55.0L252.7,57.5L252.8,63.0L252.9,64.6L253.0,57.8L253.0,59.8L253.1,66.2L253.2,70.9L253.3,62.8L253.3,67.9L253.4,67.8L253.5,72.6L253.6,68.8L253.7,72.3L253.7,56.5L253.8,59.6L253.9,73.6L254.0,56.2L254.0,68.3L254.1,65.0L254.2,69.9L254.3,72.1L254.3,75.7L254.4,60.6L254.5,72.2L254.6,57.5L254.7,57.1L254.7,64.8L254.8,50.7L254.9,69.6L255.0,78.1L255.0,61.4L255.1,57.5L255.2,67.1L255.3,73.9L255.3,75.3L255.4,69.4L255.5,71.2L255.6,65.1L255.7,70.9L255.7,55.1L255.8,66.6L255.9,79.3L256.0,64.6L256.0,54.7L256.1,66.1L256.2,61.3L256.3,66.9L256.3,64.7L256.4,64.2L256.5,67.9L256.6,73.1L256.7,76.7L256.7,62.9L256.8,63.2L256.9,58.8L257.0,70.9L257.0,59.5L257.1,74.8L257.2,60.5L257.3,60.4L257.3,59.6L257.4,74.1L257.5,75.4L257.6,55.5L257.7,72.9L257.7,73.7L257.8,71.7L257.9,59.5L258.0,67.8L258.0,67.4L258.1,55.6L258.2,61.1L258.3,62.0L258.3,69.1L258.4,60.9L258.5,71.2L258.6,56.6L258.7,67.9L258.7,65.1L258.8,78.1L258.9,69.3L259.0,72.5L259.0,72.3L259.1,72.0L259.2,52.9L259.3,60.6L259.3,61.7L259.4,66.0L259.5,65.5L259.6,70.1L259.7,66.9L259.7,73.6L259.8,75.3L259.9,66.0L260.0,54.8L260.0,72.0L260.1,70.6L260.2,61.8L260.3,61.9L260.3,55.1L260.4,54.2L260.5,70.2L260.6,65.7L260.7,71.7L260.7,63.7L260.8,66.3L260.9,78.6L261.0,67.9L261.0,63.6L261.1,66.7L261.2,70.5L261.3,57.6L261.3,60.1L261.4,61.5L261.5,75.1L261.6,67.3L261.7,62.0L261.7,61.5L261.8,63.5L261.9,63.3L262.0,60.0L262.0,78.0L262.1,55.3L262.2,72.8L262.3,67.9L262.3,58.1L262.4,57.3L262.5,79.3L262.6,65.1L262.7,58.8L262.7,56.5L262.8,56.3L262.9,74.6L263.0,58.6L263.0,74.6L263.1,58.0L263.2,57.7L263.3,63.6L263.3,69.4L263.4,66.9L263.5,53.7L263.6,56.7L263.7,58.4L263.7,58.6L263.8,64.1L263.9,57.3L264.0,76.8L264.0,79.6L264.1,59.4L264.2,78.2L264.3,60.0L264.3,60.2L264.4,78.6L264.5,59.4L264.6,68.4L264.7,70.5L264.7,68.3L264.8,73.4L264.9,67.6L265.0,69.7L265.0,56.7L265.1,58.6L265.2,60.9L265.3,77.8L265.3,61.2L265.4,56.4L265.5,78.4L265.6,56.6L265.7,66.8L265.7,53.7L265.8,59.4L265.9,72.2L266.0,56.0L266.0,75.1L266.1,74.1L266.2,67.3L266.3,55.6L266.3,56.6L266.4,66.4L266.5,67.9L266.6,67.1L266.7,68.4L266.7,59.5L266.8,59.0L266.9,61.8L267.0,79.5L267.0,59.6L267.1,74.0L267.2,75.9L267.3,71.9L267.3,67.5L267.4,66.7L267.5,66.8L267.6,61.4L267.7,58.7L267.7,59.6L267.8,62.2L267.9,53.6L268.0,59.5L268.0,74.7L268.1,71.3L268.2,74.2L268.3,57.9L268.3,70.5L268.4,58.2L268.5,67.7L268.6,80.2L268.7,66.8L268.7,75.0L268.8,57.7L268.9,73.1L269.0,62.1L269.0,65.8L269.1,64.5L269.2,70.9L269.3,57.4L269.3,73.6L269.4,65.5L269.5,70.2L269.6,60.1L269.7,69.1L269.7,66.9L269.8,57.5L269.9,66.8L270.0,73.3L270.0,67.4L270.1,67.2L270.2,76.7L270.3,57.3L270.3,61.4L270.4,61.9L270.5,78.5L270.6,55.7L270.7,66.2L270.7,67.3L270.8,63.4L270.9,59.5L271.0,60.8L271.0,63.9L271.1,62.6L271.2,76.7L271.3,61.4L271.3,65.4L271.4,75.5L271.5,58.9L271.6,71.5L271.7,74.9L271.7,53.4L271.8,60.3L271.9,73.1L272.0,69.3L272.0,60.2L272.1,61.0L272.2,59.3L272.3,76.7L272.3,60.3L272.4,80.4L272.5,75.4L272.6,80.1L272.7,73.8L272.7,65.8L272.8,60.3L272.9,76.4L273.0,59.2L273.0,71.6L273.1,74.3L273.2,76.4L273.3,58.5L273.3,55.2L273.4,52.4L273.5,58.4L273.6,52.9L273.7,67.9L273.7,72.4L273.8,60.3L273.9,72.3L274.0,57.1L274.0,63.0L274.1,60.4L274.2,56.5L274.3,77.8L274.3,70.8L274.4,60.1L274.5,63.1L274.6,76.6L274.7,75.3L274.7,56.5L274.8,68.8L274.9,61.1L275.0,62.1L275.0,72.8L275.1,62.8L275.2,78.3L275.3,56.2L275.3,77.8L275.4,53.1L275.5,65.7L275.6,72.1L275.7,72.5L275.7,52.6L275.8,76.3L275.9,59.0L276.0,66.1L276.0,74.3L276.1,65.5L276.2,63.3L276.3,60.7L276.3,82.0L276.4,64.6L276.5,72.6L276.6,57.2L276.7,60.9L276.7,57.8L276.8,76.3L276.9,58.5L277.0,57.0L277.0,56.1L277.1,52.4L277.2,74.8L277.3,66.1L277.3,56.0L277.4,68.1L277.5,72.7L277.6,57.0L277.7,70.5L277.7,60.6L277.8,67.5L277.9,76.3L278.0,76.6L278.0,78.8L278.1,60.1L278.2,71.8L278.3,75.3L278.3,76.7L278.4,68.0L278.5,73.9L278.6,76.9L278.7,61.3L278.7,61.8L278.8,61.1L278.9,75.8L279.0,69.8L279.0,68.5L279.1,60.8L279.2,54.4L279.3,67.7L279.3,69.9L279.4,74.7L279.5,55.6L279.6,66.7L279.7,65.7L279.7,69.4L279.8,65.8L279.9,74.0L280.0,67.7L280.0,57.1L280.1,69.1L280.2,52.7L280.3,74.1L280.3,56.3L280.4,61.7L280.5,57.9L280.6,56.6L280.7,50.8L280.7,65.2L280.8,64.3L280.9,58.0L281.0,75.4L281.0,55.4L281.1,66.5L281.2,62.5L281.3,61.4L281.3,70.7L281.4,69.0L281.5,58.6L281.6,64.1L281.7,81.7L281.7,70.6L281.8,54.6L281.9,79.5L282.0,59.4L282.0,65.0L282.1,64.4L282.2,71.1L282.3,71.2L282.3,63.2L282.4,79.2L282.5,60.5L282.6,61.7L282.7,61.9L282.7,57.1L282.8,73.5L282.9,77.8L283.0,57.2L283.0,73.3L283.1,65.0L283.2,75.4L283.3,53.1L283.4,62.0L283.4,77.0L283.5,67.5L283.6,51.0L283.7,71.2L283.7,60.9L283.8,80.6L283.9,66.8L284.0,66.0L284.0,60.9L284.1,66.8L284.2,68.0L284.3,58.7L284.4,61.7L284.4,62.1L284.5,68.3L284.6,63.9L284.7,78.9L284.7,76.2L284.8,58.4L284.9,55.4L285.0,60.9L285.0,73.9L285.1,62.5L285.2,66.7L285.3,74.8L285.4,65.7L285.4,54.7L285.5,60.3L285.6,62.8L285.7,57.1L285.7,60.4L285.8,72.3L285.9,78.9L286.0,73.2L286.0,68.3L286.1,57.9L286.2,64.3L286.3,68.3L286.4,53.0L286.4,61.6L286.5,66.0L286.6,75.1L286.7,60.2L286.7,53.6L286.8,80.0L286.9,67.6L287.0,53.2L287.0,65.9L287.1,64.1L287.2,58.4L287.3,75.6L287.4,56.6L287.4,57.4L287.5,64.9L287.6,63.9L287.7,80.2L287.7,77.5L287.8,63.0L287.9,55.3L288.0,58.0L288.0,71.0L288.1,72.4L288.2,54.5L288.3,57.1L288.4,76.6L288.4,61.8L288.5,74.4L288.6,67.5L288.7,54.3L288.7,56.2L288.8,76.7L288.9,69.0L289.0,76.8L289.0,57.0L289.1,62.8L289.2,70.5L289.3,59.9L289.4,74.4L289.4,74.1L289.5,70.1L289.6,51.4L289.7,72.8L289.7,63.5L289.8,68.4L289.9,62.3L290.0,67.2L290.0,58.2L290.1,61.0L290.2,57.9L290.3,63.2L290.4,63.3L290.4,57.3L290.5,74.0L290.6,55.6L290.7,59.9L290.7,64.4L290.8,57.7L290.9,74.7L291.0,62.3L291.0,57.2L291.1,54.7L291.2,72.4L291.3,62.6L291.4,65.9L291.4,72.0L291.5,75.7L291.6,54.8L291.7,60.8L291.7,55.7L291.8,71.2L291.9,68.2L292.0,75.5L292.0,55.5L292.1,57.7L292.2,66.5L292.3,67.7L292.4,72.2L292.4,71.2L292.5,64.9L292.6,50.9L292.7,60.3L292.7,57.1L292.8,74.5L292.9,75.4L293.0,66.1L293.0,76.2L293.1,70.1L293.2,68.1L293.3,74.7L293.4,65.9L293.4,80.8L293.5,71.7L293.6,77.6L293.7,74.7L293.7,72.7L293.8,66.6L293.9,60.5L294.0,63.2L294.0,60.6L294.1,62.1L294.2,61.6L294.3,67.2L294.4,65.7L294.4,58.3L294.5,55.6L294.6,74.4L294.7,65.4L294.7,57.3L294.8,62.2L294.9,66.6L295.0,63.4L295.0,55.5L295.1,76.1L295.2,54.0L295.3,75.2L295.4,55.8L295.4,52.9L295.5,57.6L295.6,78.0L295.7,60.4L295.7,64.4L295.8,68.0L295.9,74.6L296.0,56.7L296.0,66.8L296.1,76.1L296.2,69.0L296.3,61.4L296.4,68.8L296.4,72.3L296.5,62.3L296.6,65.4L296.7,69.4L296.7,61.9L296.8,62.5L296.9,71.6L297.0,72.6L297.0,70.8L297.1,60.0L297.2,71.4L297.3,61.3L297.4,53.2L297.4,69.4L297.5,53.6L297.6,66.8L297.7,60.1L297.7,66.6L297.8,60.3L297.9,70.0L298.0,72.6L298.0,60.9L298.1,65.2L298.2,75.3L298.3,64.7L298.4,56.9L298.4,64.6L298.5,56.6L298.6,56.5L298.7,60.0L298.7,52.3L298.8,59.1L298.9,59.7L299.0,62.0L299.0,71.3L299.1,50.9L299.2,57.9L299.3,53.7L299.4,56.1L299.4,69.2L299.5,66.1L299.6,67.6L299.7,72.4L299.7,53.5L299.8,58.8L299.9,65.3L300.0,62.5L300.0,55.4L300.1,79.2L300.2,60.5L300.3,77.9L300.4,68.9L300.4,62.7L300.5,54.3L300.6,58.1L300.7,71.4L300.7,73.1L300.8,64.1L300.9,69.2L301.0,64.6L301.0,73.1L301.1,58.5L301.2,68.4L301.3,62.1L301.4,77.1L301.4,56.0L301.5,58.1L301.6,74.2L301.7,58.6L301.7,65.1L301.8,78.1L301.9,64.0L302.0,62.9L302.0,61.5L302.1,71.0L302.2,55.3L302.3,72.7L302.4,65.6L302.4,74.5L302.5,71.0L302.6,63.6L302.7,70.6L302.7,71.9L302.8,50.8L302.9,59.3L303.0,70.6L303.0,69.2L303.1,70.5L303.2,72.9L303.3,54.3L303.4,80.3L303.4,73.4L303.5,72.9L303.6,79.0L303.7,57.2L303.7,66.3L303.8,55.5L303.9,67.5L304.0,69.4L304.0,57.3L304.1,77.5L304.2,55.3L304.3,65.4L304.4,60.9L304.4,70.3L304.5,58.0L304.6,59.8L304.7,65.7L304.7,63.8L304.8,63.9L304.9,65.8L305.0,57.2L305.0,74.6L305.1,61.0L305.2,63.4L305.3,61.4L305.4,67.7L305.4,70.2L305.5,57.9L305.6,60.8L305.7,66.1L305.7,52.5L305.8,59.6L305.9,59.2L306.0,64.4L306.0,67.2L306.1,76.5L306.2,79.1L306.3,73.5L306.4,55.2L306.4,68.5L306.5,65.9L306.6,76.7L306.7,79.1L306.7,78.2L306.8,70.6L306.9,73.8L307.0,66.8L307.0,57.8L307.1,82.6L307.2,57.5L307.3,60.3L307.4,80.6L307.4,56.7L307.5,69.5L307.6,75.3L307.7,56.7L307.7,57.2L307.8,54.4L307.9,57.1L308.0,76.7L308.0,68.6L308.1,57.2L308.2,54.4L308.3,74.6L308.4,73.5L308.4,79.3L308.5,61.3L308.6,62.1L308.7,53.5L308.7,57.5L308.8,57.5L308.9,53.2L309.0,77.6L309.0,65.2L309.1,71.8L309.2,65.5L309.3,54.8L309.4,64.8L309.4,66.4L309.5,68.6L309.6,73.0L309.7,70.1L309.7,55.3L309.8,62.9L309.9,65.2L310.0,66.6L310.0,75.9L310.1,55.3L310.2,72.8L310.3,65.6L310.4,72.6L310.4,56.6L310.5,69.3L310.6,64.4L310.7,78.0L310.7,58.7L310.8,76.5L310.9,58.0L311.0,78.2L311.0,66.5L311.1,71.0L311.2,60.1L311.3,83.7L311.4,79.8L311.4,62.0L311.5,74.7L311.6,66.4L311.7,75.5L311.7,55.5L311.8,70.5L311.9,58.2L312.0,63.4L312.0,72.7L312.1,56.8L312.2,56.9L312.3,79.9L312.4,73.5L312.4,62.4L312.5,54.1L312.6,60.3L312.7,52.2L312.7,67.2L312.8,68.4L312.9,58.3L313.0,52.0L313.0,63.2L313.1,70.6L313.2,57.8L313.3,74.5L313.4,53.2L313.4,71.7L313.5,67.3L313.6,67.7L313.7,65.8L313.7,63.5L313.8,52.9L313.9,60.7L314.0,56.4L314.1,51.8L314.1,68.5L314.2,77.5L314.3,57.3L314.4,49.3L314.4,73.7L314.5,57.3L314.6,70.1L314.7,77.1L314.7,64.1L314.8,65.2L314.9,72.4L315.0,68.3L315.1,76.2L315.1,62.6L315.2,75.9L315.3,76.0L315.4,69.4L315.4,67.6L315.5,71.8L315.6,77.1L315.7,54.4L315.7,67.9L315.8,73.0L315.9,59.6L316.0,77.7L316.1,78.7L316.1,69.8L316.2,78.8L316.3,60.9L316.4,55.2L316.4,71.9L316.5,69.6L316.6,77.2L316.7,70.2L316.7,54.2L316.8,58.9L316.9,65.5L317.0,62.2L317.1,77.3L317.1,77.0L317.2,79.6L317.3,70.7L317.4,57.8L317.4,57.6L317.5,63.3L317.6,51.7L317.7,62.8L317.7,74.0L317.8,73.2L317.9,72.7L318.0,52.8L318.1,52.1L318.1,62.3L318.2,61.1L318.3,63.8L318.4,68.9L318.4,56.9L318.5,69.2L318.6,56.0L318.7,71.4L318.7,71.1L318.8,68.9L318.9,50.6L319.0,69.7L319.1,56.6L319.1,53.8L319.2,63.3L319.3,53.9L319.4,52.0L319.4,59.3L319.5,78.0L319.6,56.8L319.7,70.2L319.7,65.4L319.8,65.5L319.9,70.5L320.0,58.2L320.1,56.6L320.1,74.3L320.2,60.2L320.3,55.2L320.4,68.4L320.4,54.3L320.5,68.4L320.6,50.6L320.7,52.5L320.7,61.7L320.8,63.4L320.9,69.2L321.0,67.1L321.1,69.1L321.1,76.3L321.2,57.3L321.3,59.9L321.4,71.1L321.4,64.5L321.5,65.9L321.6,63.9L321.7,73.6L321.7,69.0L321.8,59.3L321.9,73.3L322.0,65.3L322.1,71.7L322.1,62.8L322.2,69.1L322.3,66.2L322.4,58.3L322.4,59.1L322.5,57.8L322.6,66.8L322.7,69.5L322.7,75.9L322.8,50.5L322.9,55.1L323.0,58.3L323.1,55.5L323.1,68.1L323.2,76.9L323.3,66.1L323.4,69.4L323.4,58.9L323.5,57.7L323.6,72.7L323.7,54.7L323.7,69.6L323.8,77.1L323.9,60.2L324.0,59.5L324.1,75.3L324.1,72.9L324.2,48.9L324.3,53.6L324.4,77.3L324.4,74.7L324.5,73.9L324.6,68.2L324.7,50.3L324.7,73.4L324.8,66.6L324.9,63.9L325.0,62.2L325.1,69.7L325.1,65.5L325.2,68.7L325.3,76.0L325.4,69.3L325.4,55.0L325.5,72.3L325.6,65.3L325.7,56.1L325.7,63.1L325.8,66.8L325.9,52.4L326.0,70.5L326.1,57.0L326.1,68.6L326.2,58.3L326.3,71.7L326.4,67.6L326.4,58.3L326.5,57.6L326.6,62.1L326.7,74.2L326.7,78.2L326.8,60.1L326.9,63.5L327.0,74.9L327.1,61.1L327.1,77.5L327.2,77.5L327.3,75.2L327.4,70.2L327.4,52.0L327.5,58.8L327.6,54.9L327.7,63.7L327.7,62.2L327.8,62.6L327.9,58.6L328.0,67.8L328.1,61.9L328.1,73.2L328.2,52.2L328.3,53.8L328.4,53.9L328.4,58.2L328.5,59.1L328.6,58.0L328.7,52.1L328.7,75.5L328.8,60.0L328.9,65.9L329.0,57.3L329.1,75.4L329.1,75.3L329.2,56.6L329.3,56.0L329.4,76.3L329.4,55.8L329.5,69.0L329.6,73.3L329.7,49.6L329.7,59.5L329.8,53.4L329.9,52.2L330.0,67.2L330.1,57.9L330.1,59.4L330.2,73.7L330.3,69.4L330.4,68.0L330.4,75.5L330.5,75.6L330.6,59.6L330.7,59.4L330.7,71.3L330.8,72.4L330.9,75.7L331.0,65.3L331.1,68.0L331.1,67.8L331.2,78.6L331.3,63.9L331.4,72.1L331.4,55.6L331.5,58.2L331.6,72.6L331.7,58.1L331.7,77.3L331.8,58.5L331.9,68.6L332.0,67.7L332.1,71.5L332.1,58.4L332.2,75.7L332.3,61.8L332.4,63.1L332.4,77.3L332.5,61.0L332.6,58.9L332.7,60.8L332.7,71.1L332.8,75.4L332.9,71.7L333.0,69.4L333.1,53.6L333.1,74.3L333.2,65.3L333.3,77.4L333.4,63.7L333.4,67.4L333.5,76.5L333.6,71.7L333.7,68.1L333.7,64.3L333.8,72.3L333.9,63.6L334.0,63.8L334.1,66.6L334.1,66.9L334.2,62.1L334.3,61.7L334.4,78.3L334.4,74.3L334.5,68.1L334.6,67.4L334.7,76.2L334.7,55.7L334.8,60.5L334.9,55.9L335.0,72.9L335.1,59.5L335.1,65.2L335.2,75.0L335.3,65.4L335.4,65.9L335.4,79.8L335.5,66.5L335.6,62.6L335.7,75.0L335.7,81.4L335.8,59.2L335.9,65.6L336.0,68.2L336.1,64.7L336.1,65.5L336.2,60.9L336.3,66.5L336.4,61.1L336.4,78.2L336.5,52.8L336.6,70.2L336.7,58.5L336.7,71.2L336.8,55.3L336.9,59.9L337.0,54.3L337.1,54.8L337.1,64.6L337.2,68.9L337.3,61.9L337.4,58.8L337.4,69.6L337.5,61.8L337.6,64.5L337.7,75.5L337.7,60.1L337.8,64.3L337.9,65.8L338.0,72.1L338.1,61.5L338.1,66.8L338.2,71.2L338.3,72.3L338.4,64.4L338.4,74.5L338.5,65.3L338.6,72.8L338.7,48.9L338.7,61.8L338.8,63.4L338.9,75.4L339.0,63.0L339.1,79.6L339.1,58.0L339.2,78.5L339.3,79.3L339.4,71.7L339.4,58.5L339.5,74.8L339.6,67.7L339.7,64.9L339.7,70.1L339.8,75.9L339.9,59.5L340.0,77.8L340.1,57.9L340.1,72.1L340.2,65.6L340.3,83.2L340.4,56.7L340.4,63.1L340.5,58.9L340.6,61.1L340.7,74.5L340.7,58.2L340.8,79.3L340.9,77.1L341.0,59.7L341.1,68.6L341.1,72.2L341.2,74.8L341.3,74.9L341.4,62.5L341.4,53.4L341.5,63.2L341.6,78.0L341.7,59.1L341.7,53.4L341.8,63.9L341.9,69.0L342.0,68.6L342.1,69.8L342.1,58.9L342.2,55.8L342.3,57.4L342.4,51.7L342.4,72.9L342.5,53.2L342.6,77.2L342.7,60.5L342.7,66.1L342.8,71.1L342.9,66.7L343.0,62.2L343.1,52.7L343.1,72.5L343.2,55.9L343.3,68.3L343.4,56.4L343.4,67.9L343.5,78.2L343.6,55.8L343.7,73.6L343.7,79.2L343.8,52.6L343.9,57.7L344.0,58.5L344.1,74.6L344.1,75.6L344.2,73.0L344.3,74.4L344.4,63.0L344.4,56.2L344.5,69.3L344.6,77.8L344.7,59.0L344.8,71.6L344.8,58.8L344.9,60.8L345.0,55.0L345.1,71.8L345.1,57.7L345.2,69.3L345.3,68.6L345.4,56.1L345.4,55.4L345.5,67.4L345.6,77.0L345.7,76.3L345.8,64.3L345.8,78.4L345.9,72.5L346.0,70.5L346.1,60.0L346.1,54.4L346.2,61.2L346.3,60.2L346.4,74.6L346.4,62.5L346.5,75.6L346.6,65.2L346.7,67.7L346.8,56.4L346.8,65.5L346.9,70.7L347.0,74.0L347.1,63.0L347.1,56.2L347.2,66.6L347.3,74.9L347.4,72.6L347.4,76.1L347.5,75.7L347.6,70.4L347.7,52.9L347.8,57.6L347.8,72.3L347.9,61.9L348.0,60.3L348.1,74.8L348.1,75.9L348.2,68.2L348.3,57.8L348.4,73.6L348.4,58.3L348.5,66.5L348.6,81.2L348.7,70.5L348.8,61.5L348.8,62.4L348.9,70.7L349.0,77.2L349.1,65.2L349.1,61.7L349.2,77.8L349.3,78.3L349.4,72.6L349.4,76.4L349.5,63.2L349.6,67.8L349.7,61.1L349.8,62.3L349.8,68.3L349.9,69.9L350.0,70.9L350.1,67.8L350.1,55.4L350.2,60.2L350.3,74.7L350.4,65.0L350.4,69.3L350.5,65.1L350.6,60.9L350.7,78.8L350.8,73.1L350.8,78.1L350.9,63.2L351.0,72.0L351.1,69.5L351.1,67.2L351.2,63.4L351.3,70.5L351.4,69.9L351.4,73.4L351.5,55.5L351.6,70.5L351.7,58.1L351.8,68.4L351.8,74.7L351.9,66.3L352.0,53.8L352.1,74.9L352.1,55.2L352.2,69.9L352.3,57.4L352.4,72.4L352.4,60.2L352.5,77.1L352.6,59.8L352.7,79.3L352.8,73.5L352.8,57.7L352.9,53.0L353.0,54.3L353.1,74.4L353.1,73.2L353.2,72.3L353.3,64.0L353.4,75.2L353.4,66.0L353.5,65.6L353.6,51.7L353.7,53.4L353.8,75.6L353.8,60.9L353.9,54.4L354.0,65.8L354.1,73.7L354.1,75.9L354.2,77.3L354.3,75.5L354.4,65.9L354.4,78.3L354.5,78.3L354.6,57.9L354.7,58.4L354.8,74.8L354.8,56.6L354.9,73.8L355.0,56.1L355.1,63.5L355.1,56.8L355.2,58.6L355.3,62.9L355.4,62.9L355.4,59.3L355.5,76.0L355.6,75.8L355.7,61.1L355.8,77.4L355.8,79.3L355.9,62.1L356.0,69.1L356.1,58.5L356.1,68.6L356.2,55.1L356.3,75.4L356.4,55.3L356.4,58.9L356.5,78.0L356.6,77.7L356.7,77.5L356.8,47.4L356.8,64.1L356.9,72.1L357.0,62.2L357.1,70.2L357.1,73.5L357.2,55.6L357.3,71.4L357.4,53.4L357.4,69.8L357.5,77.0L357.6,62.7L357.7,71.9L357.8,63.7L357.8,54.8L357.9,58.1L358.0,56.0L358.1,67.4L358.1,71.8L358.2,58.0L358.3,58.7L358.4,76.3L358.4,77.9L358.5,70.4L358.6,58.4L358.7,61.0L358.8,64.9L358.8,57.1L358.9,70.8L359.0,61.4L359.1,53.0L359.1,50.7L359.2,69.0L359.3,73.5L359.4,74.3L359.4,68.5L359.5,73.0L359.6,52.4L359.7,65.7L359.8,71.6L359.8,57.2L359.9,61.7L360.0,64.2L360.1,76.2L360.1,60.1L360.2,57.6L360.3,68.6L360.4,74.4L360.4,55.0L360.5,61.5L360.6,68.4L360.7,59.8L360.8,59.6L360.8,80.3L360.9,57.1L361.0,62.6L361.1,55.7L361.1,60.1L361.2,61.3L361.3,71.5L361.4,79.6L361.4,50.1L361.5,76.7L361.6,55.7L361.7,70.4L361.8,75.7L361.8,74.7L361.9,76.2L362.0,68.7L362.1,65.3L362.1,57.3L362.2,74.0L362.3,74.9L362.4,66.3L362.4,55.9L362.5,69.5L362.6,59.6L362.7,74.0L362.8,61.1L362.8,69.5L362.9,73.1L363.0,76.8L363.1,74.0L363.1,75.3L363.2,55.3L363.3,71.6L363.4,68.6L363.4,63.8L363.5,58.0L363.6,55.4L363.7,51.7L363.8,68.6L363.8,57.8L363.9,72.7L364.0,58.7L364.1,67.8L364.1,77.1L364.2,61.4L364.3,77.6L364.4,80.5L364.4,61.7L364.5,59.9L364.6,57.3L364.7,57.8L364.8,58.8L364.8,81.5L364.9,74.8L365.0,61.3L365.1,72.9L365.1,71.1L365.2,53.7L365.3,72.1L365.4,67.6L365.4,56.2L365.5,55.4L365.6,68.3L365.7,80.0L365.8,53.5L365.8,60.9L365.9,51.7L366.0,58.1L366.1,72.4L366.1,64.4L366.2,55.1L366.3,56.4L366.4,73.7L366.4,76.7L366.5,63.4L366.6,68.3L366.7,68.2L366.8,63.2L366.8,63.7L366.9,55.7L367.0,56.0L367.1,58.3L367.1,60.1L367.2,73.5L367.3,55.1L367.4,70.4L367.4,56.0L367.5,62.7L367.6,73.3L367.7,77.1L367.8,79.2L367.8,61.2L367.9,70.8L368.0,54.2L368.1,61.2L368.1,63.1L368.2,62.0L368.3,57.6L368.4,59.0L368.4,54.3L368.5,74.9L368.6,62.3L368.7,60.3L368.8,59.0L368.8,81.0L368.9,72.8L369.0,68.3L369.1,69.2L369.1,61.5L369.2,54.6L369.3,57.8L369.4,67.1L369.4,72.4L369.5,74.5L369.6,67.9L369.7,69.0L369.8,59.1L369.8,60.3L369.9,62.6L370.0,53.0L370.1,62.6L370.1,70.1L370.2,61.6L370.3,77.6L370.4,64.2L370.4,61.0L370.5,77.0L370.6,67.7L370.7,75.9L370.8,58.5L370.8,69.4L370.9,62.8L371.0,73.4L371.1,63.9L371.1,59.7L371.2,60.4L371.3,67.9L371.4,64.8L371.4,59.3L371.5,64.4L371.6,76.6L371.7,56.3L371.8,74.4L371.8,58.9L371.9,70.7L372.0,74.8L372.1,63.5L372.1,59.9L372.2,66.6L372.3,61.6L372.4,74.4L372.4,72.3L372.5,56.8L372.6,61.1L372.7,57.9L372.8,54.6L372.8,58.2L372.9,65.7L373.0,59.0L373.1,58.9L373.1,69.2L373.2,52.2L373.3,55.7L373.4,55.3L373.4,73.4L373.5,62.7L373.6,61.1L373.7,62.6L373.8,61.5L373.8,75.4L373.9,79.3L374.0,68.5L374.1,61.0L374.1,60.7L374.2,70.9L374.3,79.4L374.4,60.0L374.4,72.0L374.5,58.4L374.6,68.2L374.7,64.8L374.8,59.4L374.8,61.6L374.9,65.3L375.0,73.3L375.1,62.2L375.1,70.8L375.2,72.6L375.3,70.2L375.4,73.6L375.4,72.0L375.5,71.8L375.6,57.6L375.7,58.3L375.8,73.8L375.8,76.1L375.9,56.0L376.0,58.2L376.1,55.3L376.1,64.6L376.2,65.7L376.3,67.6L376.4,65.3L376.5,62.4L376.5,65.4L376.6,54.6L376.7,61.7L376.8,77.6L376.8,56.9L376.9,55.7L377.0,76.6L377.1,66.4L377.1,81.5L377.2,67.3L377.3,69.3L377.4,68.3L377.5,55.4L377.5,66.4L377.6,69.0L377.7,59.8L377.8,74.2L377.8,56.9L377.9,55.2L378.0,71.2L378.1,58.3L378.1,56.1L378.2,54.9L378.3,64.6L378.4,56.4L378.5,62.0L378.5,54.1L378.6,63.7L378.7,59.6L378.8,54.0L378.8,64.9L378.9,62.1L379.0,60.4L379.1,75.5L379.1,60.0L379.2,68.7L379.3,61.2L379.4,66.7L379.5,74.8L379.5,60.6L379.6,75.6L379.7,61.8L379.8,68.9L379.8,54.9L379.9,72.2L380.0,73.1L380.1,70.4L380.1,64.9L380.2,75.8L380.3,57.0L380.4,66.8L380.5,72.0L380.5,65.7L380.6,54.1L380.7,67.5L380.8,64.0L380.8,77.4L380.9,76.0L381.0,55.8L381.1,70.6L381.1,72.4L381.2,68.5L381.3,50.6L381.4,71.7L381.5,56.7L381.5,76.1L381.6,70.1L381.7,59.1L381.8,70.1L381.8,73.1L381.9,69.6L382.0,66.7L382.1,60.0L382.1,67.1L382.2,71.1L382.3,54.0L382.4,61.4L382.5,70.0L382.5,69.5L382.6,64.6L382.7,52.0L382.8,66.1L382.8,75.5L382.9,61.7L383.0,76.7L383.1,60.4L383.1,56.8L383.2,63.3L383.3,72.9L383.4,77.6L383.5,63.0L383.5,59.2L383.6,67.9L383.7,63.9L383.8,79.6L383.8,82.1L383.9,76.5L384.0,73.0L384.1,74.4L384.1,76.8L384.2,77.1L384.3,73.2L384.4,69.5L384.5,63.7L384.5,69.0L384.6,77.9L384.7,58.2L384.8,77.4L384.8,57.2L384.9,68.0L385.0,76.2L385.1,77.6L385.1,57.6L385.2,66.8L385.3,61.6L385.4,55.2L385.5,72.1L385.5,62.7L385.6,72.9L385.7,58.7L385.8,59.1L385.8,77.7L385.9,77.3L386.0,81.8L386.1,76.4L386.1,70.7L386.2,81.1L386.3,68.0L386.4,59.6L386.5,61.7L386.5,69.4L386.6,68.8L386.7,65.1L386.8,61.7L386.8,62.5L386.9,55.2L387.0,76.6L387.1,70.3L387.1,78.7L387.2,66.9L387.3,55.2L387.4,72.0L387.5,75.6L387.5,61.0L387.6,74.1L387.7,68.6L387.8,60.1L387.8,77.3L387.9,62.9L388.0,59.2L388.1,71.0L388.1,75.3L388.2,63.0L388.3,69.5L388.4,64.7L388.5,80.9L388.5,62.5L388.6,64.9L388.7,59.0L388.8,73.5L388.8,74.1L388.9,61.5L389.0,79.1L389.1,58.5L389.1,58.5L389.2,77.5L389.3,61.9L389.4,74.0L389.5,70.3L389.5,59.7L389.6,58.2L389.7,74.5L389.8,68.7L389.8,75.1L389.9,60.4L390.0,55.4L390.1,59.5L390.1,59.5L390.2,57.6L390.3,71.8L390.4,62.3L390.5,67.2L390.5,61.3L390.6,65.1L390.7,51.4L390.8,76.7L390.8,70.0L390.9,63.5L391.0,67.2L391.1,70.6L391.1,66.9L391.2,71.1L391.3,61.5" fill="none" stroke="#0000ff" stroke-width="1" stroke-linejoin="round"/>
<path d="M80.3,233.0L80.4,231.5L80.5,229.2L80.5,226.5L80.6,224.5L80.7,222.8L80.8,219.9L80.8,216.5L80.9,214.1L81.0,213.2L81.1,210.6L81.1,208.6L81.2,205.0L81.3,196.8L81.4,188.4L81.5,180.9L81.5,174.7L81.6,168.3L81.7,162.2L81.8,160.0L81.8,157.8L81.9,156.8L82.0,157.3L82.1,156.4L82.1,153.9L82.2,151.0L82.3,152.6L82.4,151.3L82.5,148.4L82.5,145.7L82.6,143.0L82.7,143.8L82.8,146.6L82.8,138.6L82.9,137.4L83.0,141.6L83.1,139.4L83.1,135.3L83.2,137.4L83.3,134.4L83.4,135.6L83.5,131.6L83.5,136.4L83.6,132.0L83.7,126.5L83.8,129.2L83.8,128.9L83.9,129.0L84.0,126.7L84.1,124.0L84.1,125.9L84.2,120.1L84.3,125.4L84.4,123.3L84.5,122.9L84.5,124.5L84.6,119.6L84.7,122.9L84.8,113.8L84.8,114.3L84.9,119.8L85.0,108.6L85.1,108.7L85.1,113.4L85.2,116.1L85.3,110.7L85.4,117.9L85.5,114.0L85.5,107.5L85.6,103.9L85.7,104.4L85.8,113.2L85.8,109.6L85.9,111.9L86.0,113.6L86.1,105.6L86.1,113.8L86.2,105.2L86.3,113.5L86.4,113.4L86.5,105.8L86.5,105.8L86.6,107.0L86.7,112.3L86.8,112.6L86.8,106.3L86.9,113.2L87.0,102.0L87.1,108.3L87.1,114.6L87.2,104.1L87.3,108.8L87.4,101.9L87.5,112.9L87.5,94.0L87.6,103.8L87.7,112.0L87.8,109.8L87.8,95.5L87.9,102.5L88.0,111.2L88.1,108.4L88.1,105.1L88.2,105.0L88.3,105.4L88.4,97.1L88.5,101.5L88.5,95.7L88.6,111.6L88.7,109.6L88.8,112.2L88.8,94.9L88.9,101.8L89.0,91.1L89.1,102.6L89.1,95.9L89.2,90.0L89.3,93.7L89.4,89.2L89.5,101.7L89.5,94.7L89.6,107.0L89.7,93.4L89.8,94.7L89.8,100.4L89.9,99.6L90.0,93.2L90.1,96.2L90.1,103.4L90.2,94.9L90.3,94.4L90.4,90.3L90.5,96.6L90.5,95.7L90.6,98.3L90.7,102.4L90.8,91.4L90.8,94.1L90.9,93.4L91.0,94.3L91.1,89.5L91.1,90.4L91.2,103.8L91.3,89.5L91.4,97.7L91.5,105.7L91.5,92.5L91.6,104.1L91.7,90.3L91.8,89.1L91.8,102.4L91.9,100.4L92.0,93.0L92.1,101.6L92.1,91.9L92.2,94.1L92.3,97.7L92.4,95.2L92.5,92.9L92.5,93.6L92.6,91.1L92.7,99.3L92.8,106.3L92.8,89.0L92.9,104.0L93.0,112.0L93.1,102.0L93.1,100.2L93.2,98.7L93.3,93.7L93.4,96.8L93.5,99.4L93.5,91.7L93.6,100.4L93.7,101.0L93.8,89.3L93.8,102.7L93.9,92.6L94.0,89.7L94.1,100.5L94.1,95.2L94.2,99.1L94.3,94.5L94.4,99.9L94.5,88.4L94.5,97.8L94.6,79.5L94.7,87.1L94.8,80.2L94.8,94.6L94.9,83.6L95.0,92.2L95.1,84.9L95.1,99.7L95.2,101.4L95.3,104.3L95.4,84.6L95.5,95.4L95.5,92.7L95.6,104.5L95.7,90.3L95.8,99.7L95.8,101.9L95.9,103.0L96.0,96.5L96.1,86.9L96.2,91.4L96.2,96.7L96.3,86.5L96.4,99.6L96.5,90.7L96.5,90.5L96.6,96.4L96.7,85.0L96.8,90.8L96.8,92.3L96.9,95.6L97.0,80.9L97.1,86.7L97.2,86.4L97.2,85.1L97.3,80.8L97.4,96.8L97.5,83.9L97.5,89.0L97.6,94.1L97.7,97.8L97.8,78.2L97.8,84.9L97.9,96.4L98.0,88.7L98.1,97.2L98.2,82.1L98.2,88.9L98.3,96.7L98.4,84.4L98.5,77.7L98.5,81.9L98.6,92.7L98.7,95.3L98.8,83.2L98.8,81.3L98.9,93.4L99.0,87.9L99.1,88.2L99.2,95.5L99.2,94.1L99.3,79.9L99.4,96.7L99.5,91.1L99.5,96.8L99.6,82.8L99.7,79.6L99.8,83.8L99.8,100.3L99.9,92.8L100.0,92.1L100.1,83.4L100.2,83.7L100.2,87.6L100.3,81.5L100.4,84.3L100.5,80.9L100.5,90.9L100.6,91.9L100.7,93.1L100.8,86.6L100.8,98.5L100.9,84.0L101.0,90.8L101.1,90.1L101.2,80.5L101.2,95.6L101.3,79.3L101.4,87.8L101.5,87.4L101.5,76.2L101.6,85.7L101.7,76.4L101.8,81.5L101.8,90.4L101.9,92.7L102.0,87.8L102.1,90.8L102.2,86.1L102.2,75.9L102.3,89.8L102.4,86.4L102.5,92.6L102.5,76.9L102.6,80.9L102.7,92.5L102.8,83.2L102.8,78.2L102.9,98.9L103.0,83.8L103.1,94.2L103.2,87.5L103.2,94.6L103.3,77.3L103.4,81.6L103.5,87.9L103.5,79.4L103.6,84.2L103.7,89.0L103.8,83.1L103.8,86.7L103.9,79.7L104.0,91.7L104.1,77.0L104.2,92.8L104.2,74.1L104.3,89.0L104.4,84.9L104.5,92.7L104.5,93.7L104.6,88.3L104.7,93.4L104.8,91.7L104.8,83.8L104.9,93.5L105.0,94.4L105.1,92.3L105.2,75.1L105.2,80.7L105.3,83.0L105.4,86.9L105.5,83.1L105.5,79.2L105.6,94.0L105.7,93.9L105.8,95.5L105.8,77.0L105.9,92.2L106.0,75.6L106.1,76.8L106.2,81.2L106.2,88.1L106.3,76.8L106.4,88.6L106.5,79.9L106.5,87.7L106.6,80.0L106.7,82.5L106.8,91.0L106.8,92.2L106.9,83.3L107.0,75.9L107.1,79.3L107.2,77.2L107.2,89.2L107.3,75.3L107.4,81.0L107.5,75.1L107.5,87.8L107.6,75.7L107.7,76.3L107.8,87.2L107.8,74.5L107.9,81.4L108.0,71.8L108.1,90.7L108.2,74.0L108.2,86.6L108.3,79.5L108.4,84.2L108.5,75.7L108.5,77.5L108.6,78.2L108.7,95.6L108.8,92.8L108.8,94.1L108.9,92.9L109.0,78.3L109.1,84.4L109.2,97.8L109.2,79.9L109.3,78.9L109.4,81.7L109.5,84.1L109.5,87.9L109.6,99.4L109.7,91.4L109.8,78.1L109.8,90.4L109.9,92.0L110.0,80.5L110.1,74.5L110.2,87.7L110.2,76.5L110.3,87.3L110.4,89.9L110.5,94.9L110.5,80.8L110.6,79.7L110.7,85.0L110.8,75.8L110.8,85.7L110.9,88.8L111.0,78.0L111.1,90.1L111.2,75.8L111.2,79.3L111.3,75.5L111.4,82.9L111.5,80.2L111.5,74.9L111.6,90.0L111.7,92.1L111.8,88.5L111.8,89.4L111.9,72.9L112.0,88.1L112.1,80.3L112.2,89.3L112.2,78.7L112.3,81.3L112.4,82.1L112.5,86.5L112.5,91.2L112.6,76.7L112.7,91.7L112.8,89.0L112.8,86.2L112.9,75.4L113.0,77.3L113.1,79.4L113.2,82.5L113.2,85.8L113.3,88.5L113.4,86.7L113.5,80.9L113.5,88.8L113.6,72.3L113.7,82.0L113.8,91.2L113.8,85.9L113.9,91.2L114.0,89.6L114.1,80.6L114.2,91.0L114.2,82.7L114.3,91.4L114.4,81.9L114.5,89.0L114.5,97.3L114.6,84.1L114.7,92.6L114.8,93.0L114.8,90.6L114.9,89.1L115.0,85.9L115.1,94.2L115.2,83.0L115.2,89.6L115.3,87.7L115.4,77.7L115.5,84.5L115.5,80.0L115.6,88.4L115.7,83.4L115.8,83.8L115.8,88.5L115.9,86.1L116.0,78.1L116.1,86.0L116.2,79.6L116.2,70.4L116.3,89.9L116.4,88.2L116.5,84.0L116.5,79.0L116.6,88.8L116.7,79.5L116.8,83.3L116.8,87.1L116.9,86.0L117.0,78.7L117.1,87.6L117.2,92.3L117.2,77.2L117.3,78.0L117.4,89.9L117.5,92.2L117.5,76.5L117.6,81.9L117.7,75.8L117.8,79.2L117.8,90.6L117.9,83.5L118.0,82.1L118.1,83.9L118.2,77.7L118.2,70.1L118.3,81.0L118.4,82.9L118.5,87.9L118.5,70.3L118.6,90.3L118.7,73.6L118.8,89.7L118.8,85.4L118.9,74.1L119.0,88.9L119.1,75.2L119.2,81.5L119.2,85.5L119.3,75.9L119.4,76.4L119.5,89.9L119.5,72.4L119.6,88.3L119.7,80.4L119.8,85.3L119.8,73.4L119.9,75.8L120.0,75.5L120.1,70.6L120.2,87.6L120.2,78.4L120.3,76.5L120.4,90.1L120.5,71.8L120.5,83.4L120.6,82.2L120.7,77.9L120.8,75.4L120.8,75.6L120.9,69.0L121.0,69.1L121.1,83.0L121.2,71.7L121.2,89.5L121.3,91.8L121.4,90.5L121.5,78.5L121.5,76.2L121.6,93.5L121.7,83.4L121.8,83.2L121.8,79.5L121.9,86.3L122.0,87.1L122.1,91.0L122.2,80.5L122.2,79.6L122.3,82.1L122.4,73.7L122.5,82.8L122.5,86.1L122.6,83.9L122.7,74.9L122.8,77.7L122.8,86.8L122.9,84.9L123.0,82.4L123.1,74.9L123.2,67.9L123.2,75.0L123.3,81.5L123.4,73.5L123.5,77.4L123.5,81.5L123.6,73.2L123.7,88.1L123.8,79.6L123.8,91.0L123.9,87.4L124.0,71.3L124.1,91.2L124.2,86.4L124.2,79.6L124.3,70.0L124.4,90.1L124.5,81.9L124.5,75.3L124.6,73.7L124.7,75.7L124.8,71.3L124.8,75.1L124.9,85.5L125.0,70.3L125.1,70.1L125.2,87.4L125.2,75.4L125.3,85.1L125.4,73.1L125.5,77.4L125.5,76.9L125.6,74.2L125.7,78.9L125.8,83.8L125.8,72.5L125.9,74.8L126.0,84.3L126.1,82.1L126.2,80.0L126.2,76.4L126.3,73.2L126.4,75.6L126.5,92.8L126.5,72.8L126.6,76.9L126.7,75.1L126.8,78.0L126.8,78.9L126.9,84.3L127.0,79.1L127.1,74.3L127.2,70.1L127.2,87.0L127.3,83.4L127.4,77.0L127.5,79.3L127.5,78.0L127.6,85.6L127.7,68.3L127.8,68.1L127.9,86.7L127.9,85.5L128.0,84.4L128.1,82.0L128.2,86.9L128.2,81.7L128.3,81.4L128.4,75.8L128.5,75.4L128.5,71.3L128.6,75.1L128.7,71.2L128.8,85.3L128.9,75.9L128.9,73.3L129.0,80.7L129.1,87.4L129.2,86.6L129.2,82.7L129.3,85.7L129.4,72.5L129.5,83.2L129.5,73.6L129.6,77.5L129.7,86.3L129.8,89.4L129.9,83.8L129.9,84.1L130.0,73.0L130.1,84.8L130.2,83.9L130.2,78.7L130.3,76.3L130.4,86.5L130.5,74.4L130.5,79.5L130.6,65.1L130.7,70.6L130.8,74.0L130.9,72.0L130.9,86.2L131.0,88.6L131.1,79.1L131.2,80.5L131.2,79.4L131.3,86.6L131.4,71.8L131.5,74.0L131.5,83.4L131.6,70.5L131.7,73.0L131.8,86.6L131.9,81.8L131.9,81.8L132.0,85.6L132.1,68.1L132.2,68.3L132.2,88.0L132.3,81.1L132.4,71.6L132.5,70.5L132.5,84.3L132.6,77.9L132.7,89.2L132.8,72.3L132.9,78.2L132.9,78.1L133.0,75.4L133.1,74.8L133.2,69.2L133.2,85.8L133.3,84.6L133.4,68.9L133.5,80.6L133.5,76.6L133.6,80.9L133.7,85.4L133.8,82.5L133.9,77.8L133.9,72.8L134.0,78.9L134.1,82.2L134.2,75.6L134.2,83.8L134.3,70.7L134.4,81.1L134.5,84.7L134.5,73.8L134.6,76.1L134.7,84.0L134.8,82.6L134.9,74.5L134.9,86.8L135.0,86.2L135.1,86.5L135.2,85.6L135.2,75.1L135.3,81.6L135.4,74.0L135.5,87.2L135.5,77.6L135.6,80.3L135.7,81.7L135.8,70.8L135.9,76.1L135.9,86.1L136.0,77.2L136.1,76.3L136.2,77.2L136.2,70.8L136.3,83.1L136.4,75.8L136.5,70.3L136.5,69.6L136.6,88.9L136.7,66.6L136.8,74.8L136.9,73.8L136.9,65.9L137.0,78.2L137.1,70.2L137.2,68.8L137.2,73.0L137.3,83.6L137.4,85.8L137.5,75.8L137.5,72.5L137.6,80.8L137.7,87.0L137.8,82.6L137.9,69.4L137.9,71.3L138.0,73.2L138.1,70.7L138.2,68.2L138.2,79.9L138.3,82.6L138.4,65.6L138.5,72.7L138.5,81.9L138.6,73.1L138.7,84.7L138.8,75.3L138.9,81.2L138.9,73.7L139.0,69.0L139.1,73.0L139.2,85.2L139.2,77.6L139.3,83.2L139.4,85.4L139.5,83.0L139.5,84.6L139.6,68.3L139.7,69.9L139.8,72.4L139.9,80.5L139.9,79.2L140.0,82.0L140.1,71.7L140.2,80.6L140.2,72.0L140.3,79.4L140.4,82.4L140.5,82.1L140.5,71.8L140.6,75.3L140.7,72.6L140.8,68.6L140.9,81.2L140.9,69.0L141.0,87.4L141.1,64.6L141.2,75.9L141.2,88.2L141.3,77.6L141.4,81.1L141.5,82.1L141.5,82.8L141.6,76.1L141.7,70.9L141.8,71.6L141.9,73.3L141.9,67.1L142.0,70.9L142.1,81.8L142.2,78.1L142.2,85.0L142.3,78.0L142.4,73.9L142.5,84.5L142.5,87.4L142.6,78.0L142.7,76.3L142.8,85.5L142.9,85.9L142.9,89.2L143.0,83.9L143.1,79.9L143.2,76.7L143.2,76.4L143.3,70.9L143.4,66.8L143.5,88.8L143.5,79.5L143.6,72.6L143.7,69.3L143.8,85.2L143.9,73.9L143.9,66.4L144.0,86.5L144.1,77.7L144.2,82.6L144.2,72.0L144.3,75.8L144.4,67.7L144.5,77.5L144.5,71.4L144.6,72.2L144.7,69.1L144.8,76.8L144.9,69.7L144.9,73.4L145.0,74.2L145.1,81.9L145.2,77.5L145.2,79.5L145.3,72.2L145.4,74.2L145.5,83.8L145.5,70.1L145.6,84.0L145.7,89.0L145.8,72.2L145.9,80.1L145.9,70.2L146.0,85.5L146.1,81.2L146.2,87.2L146.2,66.4L146.3,82.8L146.4,64.6L146.5,66.6L146.5,74.9L146.6,70.2L146.7,73.3L146.8,75.9L146.9,69.0L146.9,73.6L147.0,81.1L147.1,79.8L147.2,81.2L147.2,83.3L147.3,83.4L147.4,79.6L147.5,83.9L147.5,67.2L147.6,71.5L147.7,82.8L147.8,81.9L147.9,67.2L147.9,76.8L148.0,74.3L148.1,87.2L148.2,75.5L148.2,76.7L148.3,80.0L148.4,79.1L148.5,69.2L148.5,86.5L148.6,69.1L148.7,80.5L148.8,69.3L148.9,71.1L148.9,71.3L149.0,69.1L149.1,84.0L149.2,86.5L149.2,76.8L149.3,67.1L149.4,82.9L149.5,80.1L149.5,66.9L149.6,71.7L149.7,80.2L149.8,73.1L149.9,76.1L149.9,82.9L150.0,82.3L150.1,81.5L150.2,80.5L150.2,78.5L150.3,83.4L150.4,83.9L150.5,67.7L150.5,75.5L150.6,77.2L150.7,82.4L150.8,72.7L150.9,73.0L150.9,74.8L151.0,78.4L151.1,78.2L151.2,77.7L151.2,83.8L151.3,85.5L151.4,84.5L151.5,79.8L151.5,69.6L151.6,72.2L151.7,81.1L151.8,71.4L151.9,81.8L151.9,75.1L152.0,72.2L152.1,81.8L152.2,81.2L152.2,69.5L152.3,66.7L152.4,75.1L152.5,74.6L152.5,74.7L152.6,78.6L152.7,77.1L152.8,81.8L152.9,73.8L152.9,65.9L153.0,77.0L153.1,78.9L153.2,69.1L153.2,67.6L153.3,77.4L153.4,84.2L153.5,68.3L153.5,76.5L153.6,81.4L153.7,70.0L153.8,75.9L153.9,71.7L153.9,75.9L154.0,71.0L154.1,75.5L154.2,64.9L154.2,77.8L154.3,79.5L154.4,65.1L154.5,82.3L154.5,68.1L154.6,74.4L154.7,76.4L154.8,84.1L154.9,80.9L154.9,70.3L155.0,80.2L155.1,70.3L155.2,73.6L155.2,82.2L155.3,67.4L155.4,79.4L155.5,81.3L155.5,72.0L155.6,72.9L155.7,74.8L155.8,71.0L155.9,83.6L155.9,74.6L156.0,80.9L156.1,69.2L156.2,67.6L156.2,84.4L156.3,80.1L156.4,78.4L156.5,77.4L156.5,73.4L156.6,78.1L156.7,69.9L156.8,74.4L156.9,77.1L156.9,78.7L157.0,78.6L157.1,66.2L157.2,78.6L157.2,85.6L157.3,70.6L157.4,78.4L157.5,83.7L157.5,81.6L157.6,81.7L157.7,73.2L157.8,76.3L157.9,78.2L157.9,73.3L158.0,83.3L158.1,71.9L158.2,73.5L158.2,84.3L158.3,71.0L158.4,75.0L158.5,65.4L158.6,85.6L158.6,76.0L158.7,78.7L158.8,70.1L158.9,79.5L158.9,81.1L159.0,79.4L159.1,79.1L159.2,65.1L159.2,67.6L159.3,70.1L159.4,73.2L159.5,69.7L159.6,77.5L159.6,72.4L159.7,85.3L159.8,64.6L159.9,66.9L159.9,66.3L160.0,79.3L160.1,72.2L160.2,85.4L160.2,68.8L160.3,68.5L160.4,71.8L160.5,73.6L160.6,69.7L160.6,69.1L160.7,84.8L160.8,76.5L160.9,76.4L160.9,86.0L161.0,78.3L161.1,79.0L161.2,68.4L161.2,81.2L161.3,84.1L161.4,86.5L161.5,75.6L161.6,68.3L161.6,83.8L161.7,69.9L161.8,69.5L161.9,80.9L161.9,75.9L162.0,78.0L162.1,78.8L162.2,85.7L162.2,74.7L162.3,86.8L162.4,70.6L162.5,74.9L162.6,63.6L162.6,67.4L162.7,66.0L162.8,66.2L162.9,82.0L162.9,81.5L163.0,72.0L163.1,72.6L163.2,74.1L163.2,72.0L163.3,82.4L163.4,66.8L163.5,73.3L163.6,71.2L163.6,75.9L163.7,64.2L163.8,74.9L163.9,69.7L163.9,78.8L164.0,75.9L164.1,66.0L164.2,80.3L164.2,76.9L164.3,81.7L164.4,70.4L164.5,66.0L164.6,69.0L164.6,74.4L164.7,63.7L164.8,78.9L164.9,81.5L164.9,65.2L165.0,70.5L165.1,82.0L165.2,70.7L165.2,77.3L165.3,69.7L165.4,82.9L165.5,76.7L165.6,69.9L165.6,78.6L165.7,71.0L165.8,69.3L165.9,72.5L165.9,64.6L166.0,78.3L166.1,64.2L166.2,70.8L166.2,63.2L166.3,75.6L166.4,81.7L166.5,76.7L166.6,80.3L166.6,81.4L166.7,87.2L166.8,67.1L166.9,73.9L166.9,63.9L167.0,80.6L167.1,82.1L167.2,72.0L167.2,80.8L167.3,72.4L167.4,81.7L167.5,66.5L167.6,73.7L167.6,61.4L167.7,72.2L167.8,75.9L167.9,77.3L167.9,78.7L168.0,76.2L168.1,73.1L168.2,82.4L168.2,79.9L168.3,77.0L168.4,75.8L168.5,69.7L168.6,65.2L168.6,84.2L168.7,70.1L168.8,73.7L168.9,78.2L168.9,81.2L169.0,65.0L169.1,68.0L169.2,74.8L169.2,66.4L169.3,75.1L169.4,66.8L169.5,68.6L169.6,66.4L169.6,79.1L169.7,77.4L169.8,65.7L169.9,71.3L169.9,84.4L170.0,66.8L170.1,78.2L170.2,68.1L170.2,86.3L170.3,74.1L170.4,81.6L170.5,86.9L170.6,87.7L170.6,79.8L170.7,80.1L170.8,71.2L170.9,74.6L170.9,71.2L171.0,73.9L171.1,65.7L171.2,69.7L171.2,87.1L171.3,75.3L171.4,69.5L171.5,80.7L171.6,73.9L171.6,73.5L171.7,68.3L171.8,69.9L171.9,80.1L171.9,69.2L172.0,70.4L172.1,77.7L172.2,70.2L172.2,82.2L172.3,82.3L172.4,82.0L172.5,82.6L172.6,72.3L172.6,72.8L172.7,78.4L172.8,82.1L172.9,65.1L172.9,82.5L173.0,79.4L173.1,80.9L173.2,68.8L173.2,84.1L173.3,64.9L173.4,68.7L173.5,72.6L173.6,68.4L173.6,70.1L173.7,72.8L173.8,80.1L173.9,85.5L173.9,81.9L174.0,82.8L174.1,70.7L174.2,72.9L174.2,70.9L174.3,67.5L174.4,79.8L174.5,78.1L174.6,76.2L174.6,82.9L174.7,76.5L174.8,73.0L174.9,81.8L174.9,78.3L175.0,70.6L175.1,84.1L175.2,65.3L175.2,75.5L175.3,68.6L175.4,82.9L175.5,64.7L175.6,73.3L175.6,70.6L175.7,70.2L175.8,74.6L175.9,69.8L175.9,82.3L176.0,68.0L176.1,65.3L176.2,68.4L176.2,75.0L176.3,82.0L176.4,79.6L176.5,81.5L176.6,74.7L176.6,71.5L176.7,68.3L176.8,78.5L176.9,80.8L176.9,74.1L177.0,72.8L177.1,83.7L177.2,66.9L177.2,71.7L177.3,79.0L177.4,75.7L177.5,85.6L177.6,76.6L177.6,77.3L177.7,84.9L177.8,77.5L177.9,80.7L177.9,79.4L178.0,65.3L178.1,68.5L178.2,80.7L178.2,77.0L178.3,80.3L178.4,73.5L178.5,74.5L178.6,71.5L178.6,76.3L178.7,74.7L178.8,72.3L178.9,73.7L178.9,74.7L179.0,71.5L179.1,83.2L179.2,70.8L179.2,81.4L179.3,82.3L179.4,77.4L179.5,72.3L179.6,79.9L179.6,78.7L179.7,65.5L179.8,75.2L179.9,71.1L179.9,66.8L180.0,80.7L180.1,70.9L180.2,65.3L180.2,68.5L180.3,76.7L180.4,64.1L180.5,67.5L180.6,80.3L180.6,70.6L180.7,71.1L180.8,72.2L180.9,75.9L180.9,65.5L181.0,81.1L181.1,71.2L181.2,77.2L181.2,66.5L181.3,63.1L181.4,74.1L181.5,62.7L181.6,74.7L181.6,65.6L181.7,65.3L181.8,71.0L181.9,65.4L181.9,60.9L182.0,66.3L182.1,72.8L182.2,79.4L182.2,68.9L182.3,67.7L182.4,67.4L182.5,84.7L182.6,69.0L182.6,79.5L182.7,74.6L182.8,75.1L182.9,64.3L182.9,78.0L183.0,68.7L183.1,81.0L183.2,77.2L183.2,70.7L183.3,76.3L183.4,79.7L183.5,75.7L183.6,78.6L183.6,68.7L183.7,82.4L183.8,71.7L183.9,65.5L183.9,73.3L184.0,70.5L184.1,79.2L184.2,82.4L184.2,75.3L184.3,73.0L184.4,70.9L184.5,80.0L184.6,65.8L184.6,79.6L184.7,61.9L184.8,70.0L184.9,70.0L184.9,83.3L185.0,82.2L185.1,81.1L185.2,83.7L185.2,81.5L185.3,80.4L185.4,74.5L185.5,80.1L185.6,70.8L185.6,83.7L185.7,69.2L185.8,67.7L185.9,75.4L185.9,76.4L186.0,63.9L186.1,63.7L186.2,68.2L186.2,77.5L186.3,82.2L186.4,66.6L186.5,82.8L186.6,78.9L186.6,70.1L186.7,79.2L186.8,86.6L186.9,67.7L186.9,77.4L187.0,70.0L187.1,73.3L187.2,80.7L187.2,73.3L187.3,80.2L187.4,74.2L187.5,73.8L187.6,66.4L187.6,75.8L187.7,79.9L187.8,79.5L187.9,66.3L187.9,73.7L188.0,69.6L188.1,69.6L188.2,68.1L188.2,68.3L188.3,74.4L188.4,73.4L188.5,71.5L188.6,64.3L188.6,67.3L188.7,73.9L188.8,68.8L188.9,63.6L188.9,71.3L189.0,71.1L189.1,79.3L189.2,66.8L189.3,74.8L189.3,78.1L189.4,74.0L189.5,73.2L189.6,70.1L189.6,69.1L189.7,79.8L189.8,76.6L189.9,66.0L189.9,75.6L190.0,72.0L190.1,79.5L190.2,77.3L190.3,83.5L190.3,79.4L190.4,75.3L190.5,84.4L190.6,67.1L190.6,68.9L190.7,66.2L190.8,70.7L190.9,74.2L190.9,78.1L191.0,65.7L191.1,84.5L191.2,79.9L191.3,63.0L191.3,67.8L191.4,82.0L191.5,81.6L191.6,72.7L191.6,80.5L191.7,73.7L191.8,69.9L191.9,80.2L191.9,74.8L192.0,84.4L192.1,67.4L192.2,81.8L192.3,82.4L192.3,75.9L192.4,67.6L192.5,75.1L192.6,80.2L192.6,68.1L192.7,82.8L192.8,67.4L192.9,65.6L192.9,76.5L193.0,77.2L193.1,70.6L193.2,72.0L193.3,65.1L193.3,81.5L193.4,71.6L193.5,71.5L193.6,80.9L193.6,74.2L193.7,73.2L193.8,73.8L193.9,64.0L193.9,70.3L194.0,71.2L194.1,64.3L194.2,76.2L194.3,84.0L194.3,79.4L194.4,71.9L194.5,68.1L194.6,80.9L194.6,78.9L194.7,83.8L194.8,78.3L194.9,76.0L194.9,73.5L195.0,72.6L195.1,86.1L195.2,88.4L195.3,69.8L195.3,81.2L195.4,82.5L195.5,67.7L195.6,77.7L195.6,78.4L195.7,81.9L195.8,81.3L195.9,71.1L195.9,80.8L196.0,75.8L196.1,81.3L196.2,83.0L196.3,72.6L196.3,77.7L196.4,77.8L196.5,83.0L196.6,78.3L196.6,73.9L196.7,80.3L196.8,80.5L196.9,76.6L196.9,85.0L197.0,75.6L197.1,68.2L197.2,70.0L197.3,84.7L197.3,73.7L197.4,76.7L197.5,69.3L197.6,86.1L197.6,75.0L197.7,69.2L197.8,83.0L197.9,69.3L197.9,75.7L198.0,62.9L198.1,78.6L198.2,65.2L198.3,70.8L198.3,72.2L198.4,73.2L198.5,83.1L198.6,68.4L198.6,72.3L198.7,72.7L198.8,82.4L198.9,84.1L198.9,82.3L199.0,83.6L199.1,75.7L199.2,79.3L199.3,78.4L199.3,70.1L199.4,82.2L199.5,82.4L199.6,84.5L199.6,76.0L199.7,71.7L199.8,72.2L199.9,79.3L199.9,78.4L200.0,77.8L200.1,65.3L200.2,64.9L200.3,72.6L200.3,73.6L200.4,62.9L200.5,72.3L200.6,82.6L200.6,75.5L200.7,67.7L200.8,83.7L200.9,84.0L200.9,66.4L201.0,84.2L201.1,77.6L201.2,80.9L201.3,77.7L201.3,83.2L201.4,78.8L201.5,67.3L201.6,80.5L201.6,63.1L201.7,72.2L201.8,77.2L201.9,81.6L201.9,75.4L202.0,76.7L202.1,73.9L202.2,68.7L202.3,86.7L202.3,78.5L202.4,74.1L202.5,68.3L202.6,67.8L202.6,79.7L202.7,71.0L202.8,78.8L202.9,77.8L202.9,67.8L203.0,73.0L203.1,86.2L203.2,64.3L203.3,86.3L203.3,65.8L203.4,75.5L203.5,72.0L203.6,77.6L203.6,69.3L203.7,72.3L203.8,70.8L203.9,74.7L203.9,74.5L204.0,85.8L204.1,68.9L204.2,72.4L204.3,76.4L204.3,67.9L204.4,71.3L204.5,72.6L204.6,62.8L204.6,73.4L204.7,64.9L204.8,75.0L204.9,75.1L204.9,72.8L205.0,65.5L205.1,75.6L205.2,77.0L205.3,85.3L205.3,78.1L205.4,75.0L205.5,81.1L205.6,77.9L205.6,63.5L205.7,71.7L205.8,80.7L205.9,66.4L205.9,69.4L206.0,71.9L206.1,80.7L206.2,66.3L206.3,69.3L206.3,80.2L206.4,79.3L206.5,83.8L206.6,82.1L206.6,63.4L206.7,84.4L206.8,82.6L206.9,75.7L206.9,75.5L207.0,81.5L207.1,65.6L207.2,72.0L207.3,72.2L207.3,71.3L207.4,68.8L207.5,63.4L207.6,67.4L207.6,72.2L207.7,62.2L207.8,78.0L207.9,75.8L207.9,84.5L208.0,81.8L208.1,68.8L208.2,82.2L208.3,68.5L208.3,83.5L208.4,71.0L208.5,79.2L208.6,72.2L208.6,76.2L208.7,80.8L208.8,81.1L208.9,65.3L208.9,82.6L209.0,64.8L209.1,79.4L209.2,67.2L209.3,64.8L209.3,83.8L209.4,81.7L209.5,78.6L209.6,74.6L209.6,66.7L209.7,74.8L209.8,84.1L209.9,67.7L209.9,71.5L210.0,63.7L210.1,84.2L210.2,72.2L210.3,76.3L210.3,79.9L210.4,80.2L210.5,80.2L210.6,69.6L210.6,63.2L210.7,74.0L210.8,72.8L210.9,69.5L210.9,67.6L211.0,66.1L211.1,70.4L211.2,83.8L211.3,82.4L211.3,64.8L211.4,64.7L211.5,76.5L211.6,67.2L211.6,66.5L211.7,74.5L211.8,72.9L211.9,74.6L211.9,73.2L212.0,69.6L212.1,78.1L212.2,70.8L212.3,64.1L212.3,69.2L212.4,70.8L212.5,80.8L212.6,81.2L212.6,71.3L212.7,81.5L212.8,81.9L212.9,80.9L212.9,81.6L213.0,69.6L213.1,72.0L213.2,85.3L213.3,80.8L213.3,71.5L213.4,83.7L213.5,82.2L213.6,67.2L213.6,79.0L213.7,75.5L213.8,74.4L213.9,82.6L213.9,84.4L214.0,70.0L214.1,85.9L214.2,70.3L214.3,86.4L214.3,85.6L214.4,74.2L214.5,70.9L214.6,70.7L214.6,85.0L214.7,79.2L214.8,73.3L214.9,84.8L214.9,68.4L215.0,70.7L215.1,59.4L215.2,84.2L215.3,65.9L215.3,67.4L215.4,81.5L215.5,73.9L215.6,80.9L215.6,78.3L215.7,71.0L215.8,83.5L215.9,76.5L215.9,82.9L216.0,66.6L216.1,79.9L216.2,69.0L216.3,76.0L216.3,82.6L216.4,64.4L216.5,62.4L216.6,78.1L216.6,79.0L216.7,74.8L216.8,78.6L216.9,74.7L216.9,65.4L217.0,70.2L217.1,72.4L217.2,65.2L217.3,83.1L217.3,74.7L217.4,78.2L217.5,73.2L217.6,88.5L217.6,77.8L217.7,82.2L217.8,78.7L217.9,82.8L217.9,74.7L218.0,68.9L218.1,61.9L218.2,61.7L218.3,74.1L218.3,82.3L218.4,64.2L218.5,61.2L218.6,73.7L218.6,65.0L218.7,64.8L218.8,84.5L218.9,75.9L218.9,66.4L219.0,66.8L219.1,79.9L219.2,69.3L219.3,71.0L219.3,63.4L219.4,83.0L219.5,74.6L219.6,80.2L219.6,77.1L219.7,68.5L219.8,69.4L219.9,69.8L219.9,82.6L220.0,83.9L220.1,84.8L220.2,76.4L220.3,75.2L220.3,78.1L220.4,75.4L220.5,80.1L220.6,67.4L220.6,70.2L220.7,73.8L220.8,76.2L220.9,79.0L221.0,65.5L221.0,68.8L221.1,67.9L221.2,71.9L221.3,78.4L221.3,79.1L221.4,69.9L221.5,73.3L221.6,70.1L221.6,69.2L221.7,63.0L221.8,72.2L221.9,81.5L222.0,75.7L222.0,74.3L222.1,79.8L222.2,69.0L222.3,72.9L222.3,84.5L222.4,67.2L222.5,60.6L222.6,59.7L222.6,80.9L222.7,72.6L222.8,60.3L222.9,68.9L223.0,67.6L223.0,66.6L223.1,80.7L223.2,75.1L223.3,65.1L223.3,80.0L223.4,78.2L223.5,65.7L223.6,70.5L223.6,68.9L223.7,66.4L223.8,76.0L223.9,70.7L224.0,81.5L224.0,68.1L224.1,67.5L224.2,73.6L224.3,79.3L224.3,73.4L224.4,75.8L224.5,68.6L224.6,77.0L224.6,77.0L224.7,83.8L224.8,81.3L224.9,80.2L225.0,71.6L225.0,77.3L225.1,78.3L225.2,65.5L225.3,68.1L225.3,76.2L225.4,70.5L225.5,78.5L225.6,77.1L225.6,83.2L225.7,73.4L225.8,78.4L225.9,80.5L226.0,75.2L226.0,82.2L226.1,77.5L226.2,71.9L226.3,88.2L226.3,80.8L226.4,69.3L226.5,83.9L226.6,78.9L226.6,72.2L226.7,64.0L226.8,67.7L226.9,84.3L227.0,84.3L227.0,83.5L227.1,67.1L227.2,82.4L227.3,73.5L227.3,73.2L227.4,64.9L227.5,78.0L227.6,71.4L227.6,67.6L227.7,69.5L227.8,72.7L227.9,66.2L228.0,65.5L228.0,74.3L228.1,84.6L228.2,67.0L228.3,70.1L228.3,74.5L228.4,71.8L228.5,84.5L228.6,68.6L228.6,68.5L228.7,68.3L228.8,66.6L228.9,74.2L229.0,70.7L229.0,66.6L229.1,68.2L229.2,68.5L229.3,79.9L229.3,72.0L229.4,76.6L229.5,73.9L229.6,76.0L229.6,72.8L229.7,77.3L229.8,63.5L229.9,61.4L230.0,84.2L230.0,77.2L230.1,73.0L230.2,80.1L230.3,74.0L230.3,73.8L230.4,77.5L230.5,73.2L230.6,77.6L230.6,73.9L230.7,68.1L230.8,75.8L230.9,69.9L231.0,80.6L231.0,75.3L231.1,75.3L231.2,81.9L231.3,73.4L231.3,62.3L231.4,68.6L231.5,83.1L231.6,68.3L231.6,76.5L231.7,79.7L231.8,63.2L231.9,68.0L232.0,82.3L232.0,79.9L232.1,65.2L232.2,79.9L232.3,75.5L232.3,64.6L232.4,68.3L232.5,65.5L232.6,66.8L232.6,75.1L232.7,79.1L232.8,74.4L232.9,73.4L233.0,82.2L233.0,63.7L233.1,84.9L233.2,63.4L233.3,77.4L233.3,63.9L233.4,80.5L233.5,72.7L233.6,75.9L233.6,80.8L233.7,71.0L233.8,68.3L233.9,69.6L234.0,72.4L234.0,72.9L234.1,65.7L234.2,70.2L234.3,72.9L234.3,69.3L234.4,73.9L234.5,67.0L234.6,82.1L234.6,74.9L234.7,62.8L234.8,73.1L234.9,65.1L235.0,76.7L235.0,66.9L235.1,80.8L235.2,73.7L235.3,85.5L235.3,64.6L235.4,71.8L235.5,75.6L235.6,82.2L235.6,73.4L235.7,85.2L235.8,78.9L235.9,80.5L236.0,74.9L236.0,77.5L236.1,69.0L236.2,84.5L236.3,65.7L236.3,75.9L236.4,66.9L236.5,71.5L236.6,78.4L236.6,66.9L236.7,80.1L236.8,79.0L236.9,64.0L237.0,69.6L237.0,66.2L237.1,72.2L237.2,76.5L237.3,66.4L237.3,82.9L237.4,79.9L237.5,74.7L237.6,86.1L237.6,74.1L237.7,83.3L237.8,75.4L237.9,79.1L238.0,72.5L238.0,76.2L238.1,78.6L238.2,83.7L238.3,69.7L238.3,81.1L238.4,67.1L238.5,74.8L238.6,65.5L238.6,79.9L238.7,81.6L238.8,69.6L238.9,69.3L239.0,62.1L239.0,66.7L239.1,64.7L239.2,65.4L239.3,79.9L239.3,79.8L239.4,68.4L239.5,80.1L239.6,75.5L239.6,71.6L239.7,75.1L239.8,82.1L239.9,69.6L240.0,65.9L240.0,80.2L240.1,83.7L240.2,70.2L240.3,75.4L240.3,80.8L240.4,70.8L240.5,67.1L240.6,65.8L240.6,62.6L240.7,70.6L240.8,81.6L240.9,71.0L241.0,79.8L241.0,68.8L241.1,80.3L241.2,83.7L241.3,71.6L241.3,75.2L241.4,69.4L241.5,70.7L241.6,83.0L241.6,64.9L241.7,68.2L241.8,81.5L241.9,69.0L242.0,78.9L242.0,79.9L242.1,66.8L242.2,72.0L242.3,76.8L242.3,77.2L242.4,76.5L242.5,79.1L242.6,70.6L242.6,83.7L242.7,76.6L242.8,75.5L242.9,88.4L243.0,71.7L243.0,69.5L243.1,81.8L243.2,84.2L243.3,87.1L243.3,73.3L243.4,75.1L243.5,72.0L243.6,68.0L243.6,82.2L243.7,80.9L243.8,70.8L243.9,69.8L244.0,79.5L244.0,64.0L244.1,78.0L244.2,73.4L244.3,72.5L244.3,83.0L244.4,79.9L244.5,81.8L244.6,71.3L244.6,66.8L244.7,77.9L244.8,71.5L244.9,78.3L245.0,79.3L245.0,65.4L245.1,72.3L245.2,80.5L245.3,81.0L245.3,65.9L245.4,72.8L245.5,68.7L245.6,76.9L245.6,66.0L245.7,70.7L245.8,81.1L245.9,69.6L246.0,67.6L246.0,75.7L246.1,82.4L246.2,69.7L246.3,80.9L246.3,80.9L246.4,79.2L246.5,78.1L246.6,83.3L246.6,77.7L246.7,79.6L246.8,63.4L246.9,80.2L247.0,74.5L247.0,65.7L247.1,77.9L247.2,74.7L247.3,74.7L247.3,66.2L247.4,75.8L247.5,71.2L247.6,70.2L247.6,76.5L247.7,65.9L247.8,72.7L247.9,77.7L248.0,73.6L248.0,66.2L248.1,67.0L248.2,78.3L248.3,76.6L248.3,62.3L248.4,80.9L248.5,65.3L248.6,73.9L248.6,78.8L248.7,68.6L248.8,66.9L248.9,72.0L249.0,78.8L249.0,81.3L249.1,75.8L249.2,64.7L249.3,71.8L249.3,69.7L249.4,78.8L249.5,77.4L249.6,77.7L249.6,78.8L249.7,65.0L249.8,75.9L249.9,80.7L250.0,63.8L250.0,69.4L250.1,79.3L250.2,74.1L250.3,69.9L250.3,61.8L250.4,66.0L250.5,80.1L250.6,80.9L250.6,73.9L250.7,70.8L250.8,80.9L250.9,83.5L251.0,78.0L251.0,67.0L251.1,73.2L251.2,83.3L251.3,77.2L251.3,77.3L251.4,71.5L251.5,63.5L251.6,65.2L251.7,68.1L251.7,73.5L251.8,77.3L251.9,69.8L252.0,65.5L252.0,71.7L252.1,75.6L252.2,68.7L252.3,70.1L252.3,81.5L252.4,67.3L252.5,77.0L252.6,69.7L252.7,66.5L252.7,75.9L252.8,67.6L252.9,72.6L253.0,67.5L253.0,63.5L253.1,67.0L253.2,70.2L253.3,77.5L253.3,69.7L253.4,79.4L253.5,63.9L253.6,68.8L253.7,72.9L253.7,75.8L253.8,80.0L253.9,75.7L254.0,78.3L254.0,71.0L254.1,81.5L254.2,80.6L254.3,84.7L254.3,81.7L254.4,67.5L254.5,77.8L254.6,78.3L254.7,69.2L254.7,71.3L254.8,85.8L254.9,76.7L255.0,81.5L255.0,70.0L255.1,82.9L255.2,77.9L255.3,85.4L255.3,83.4L255.4,85.1L255.5,74.7L255.6,80.3L255.7,70.0L255.7,75.2L255.8,77.4L255.9,75.1L256.0,81.3L256.0,80.9L256.1,83.3L256.2,80.8L256.3,69.8L256.3,71.0L256.4,83.9L256.5,66.6L256.6,69.6L256.7,74.4L256.7,76.1L256.8,75.6L256.9,67.2L257.0,75.6L257.0,73.3L257.1,79.6L257.2,63.8L257.3,66.8L257.3,76.9L257.4,67.5L257.5,66.1L257.6,68.3L257.7,79.1L257.7,83.6L257.8,69.0L257.9,68.2L258.0,78.9L258.0,79.1L258.1,72.0L258.2,74.0L258.3,72.1L258.3,81.9L258.4,76.4L258.5,65.4L258.6,72.6L258.7,74.0L258.7,77.5L258.8,79.1L258.9,73.8L259.0,73.8L259.0,72.9L259.1,78.3L259.2,69.9L259.3,77.2L259.3,84.6L259.4,85.3L259.5,81.0L259.6,64.0L259.7,85.8L259.7,84.8L259.8,67.6L259.9,74.5L260.0,75.4L260.0,73.3L260.1,74.8L260.2,73.6L260.3,73.2L260.3,76.5L260.4,77.8L260.5,77.5L260.6,81.6L260.7,84.4L260.7,72.2L260.8,80.7L260.9,81.5L261.0,67.6L261.0,70.1L261.1,78.1L261.2,75.3L261.3,72.7L261.3,82.3L261.4,73.3L261.5,80.8L261.6,71.2L261.7,68.7L261.7,71.7L261.8,76.9L261.9,77.1L262.0,80.8L262.0,76.5L262.1,77.2L262.2,81.7L262.3,76.5L262.3,78.3L262.4,70.7L262.5,65.7L262.6,83.6L262.7,76.5L262.7,71.9L262.8,68.9L262.9,72.6L263.0,67.8L263.0,80.5L263.1,80.3L263.2,82.2L263.3,74.4L263.3,82.6L263.4,82.1L263.5,73.3L263.6,77.8L263.7,71.6L263.7,73.6L263.8,77.0L263.9,77.4L264.0,76.7L264.0,66.7L264.1,77.9L264.2,66.1L264.3,74.0L264.3,78.2L264.4,70.2L264.5,79.8L264.6,75.6L264.7,81.0L264.7,62.6L264.8,77.3L264.9,75.2L265.0,70.0L265.0,70.7L265.1,70.6L265.2,78.8L265.3,78.5L265.3,86.1L265.4,69.3L265.5,64.9L265.6,69.4L265.7,74.3L265.7,69.7L265.8,66.8L265.9,76.0L266.0,81.5L266.0,82.1L266.1,65.7L266.2,72.0L266.3,81.7L266.3,79.1L266.4,78.8L266.5,71.3L266.6,79.5L266.7,80.7L266.7,83.3L266.8,85.3L266.9,78.7L267.0,63.5L267.0,77.2L267.1,73.7L267.2,64.7L267.3,77.6L267.3,66.4L267.4,71.2L267.5,65.3L267.6,68.1L267.7,64.0L267.7,71.3L267.8,74.4L267.9,79.4L268.0,83.2L268.0,65.3L268.1,67.4L268.2,64.7L268.3,67.2L268.3,72.7L268.4,76.4L268.5,68.6L268.6,79.7L268.7,63.3L268.7,72.6L268.8,79.4L268.9,68.3L269.0,85.2L269.0,81.1L269.1,73.9L269.2,76.8L269.3,74.9L269.3,70.4L269.4,67.7L269.5,65.0L269.6,73.7L269.7,75.4L269.7,68.4L269.8,67.6L269.9,70.1L270.0,65.8L270.0,64.0L270.1,77.5L270.2,75.9L270.3,66.0L270.3,70.7L270.4,65.5L270.5,73.5L270.6,69.9L270.7,67.7L270.7,73.0L270.8,84.6L270.9,67.9L271.0,79.9L271.0,75.9L271.1,74.5L271.2,78.8L271.3,64.6L271.3,64.0L271.4,61.5L271.5,62.2L271.6,76.6L271.7,72.4L271.7,64.5L271.8,66.4L271.9,62.9L272.0,77.1L272.0,71.2L272.1,70.6L272.2,75.7L272.3,67.4L272.3,67.4L272.4,66.5L272.5,66.3L272.6,77.5L272.7,75.4L272.7,67.5L272.8,77.3L272.9,71.9L273.0,81.0L273.0,83.0L273.1,62.9L273.2,68.9L273.3,78.8L273.3,79.9L273.4,77.4L273.5,76.9L273.6,66.5L273.7,76.8L273.7,77.4L273.8,73.7L273.9,73.1L274.0,71.8L274.0,62.9L274.1,68.8L274.2,68.4L274.3,76.2L274.3,72.5L274.4,75.8L274.5,66.8L274.6,61.5L274.7,64.2L274.7,66.2L274.8,84.3L274.9,80.8L275.0,64.8L275.0,84.7L275.1,75.5L275.2,72.2L275.3,66.9L275.3,74.8L275.4,65.4L275.5,72.4L275.6,78.8L275.7,71.0L275.7,74.5L275.8,80.2L275.9,75.6L276.0,77.7L276.0,75.1L276.1,81.1L276.2,77.8L276.3,72.0L276.3,76.0L276.4,66.3L276.5,63.0L276.6,64.6L276.7,63.7L276.7,65.8L276.8,72.7L276.9,67.8L277.0,81.7L277.0,72.2L277.1,84.1L277.2,67.2L277.3,67.6L277.3,70.5L277.4,82.8L277.5,76.3L277.6,83.8L277.7,78.6L277.7,70.8L277.8,62.5L277.9,81.2L278.0,82.0L278.0,67.2L278.1,77.9L278.2,63.9L278.3,65.5L278.3,77.0L278.4,81.2L278.5,83.7L278.6,73.4L278.7,69.4L278.7,74.5L278.8,68.7L278.9,71.5L279.0,77.9L279.0,70.5L279.1,73.9L279.2,72.7L279.3,74.8L279.3,79.2L279.4,65.7L279.5,81.7L279.6,76.0L279.7,77.6L279.7,80.5L279.8,81.6L279.9,71.5L280.0,80.0L280.0,70.5L280.1,81.4L280.2,70.2L280.3,80.0L280.3,73.8L280.4,77.3L280.5,64.7L280.6,76.6L280.7,67.9L280.7,68.4L280.8,62.4L280.9,71.8L281.0,68.9L281.0,72.3L281.1,73.2L281.2,71.7L281.3,79.4L281.3,82.1L281.4,85.9L281.5,73.5L281.6,68.5L281.7,73.4L281.7,71.4L281.8,72.4L281.9,80.2L282.0,71.8L282.0,82.8L282.1,81.4L282.2,74.2L282.3,69.4L282.3,72.7L282.4,71.6L282.5,67.0L282.6,79.2L282.7,78.3L282.7,75.5L282.8,66.3L282.9,80.2L283.0,64.8L283.0,66.2L283.1,79.5L283.2,64.8L283.3,69.3L283.4,68.5L283.4,73.8L283.5,73.5L283.6,78.7L283.7,84.1L283.7,72.2L283.8,69.2L283.9,83.1L284.0,70.5L284.0,79.7L284.1,83.7L284.2,65.6L284.3,73.8L284.4,67.7L284.4,71.8L284.5,67.3L284.6,75.1L284.7,77.5L284.7,64.9L284.8,74.2L284.9,71.7L285.0,67.9L285.0,70.3L285.1,68.8L285.2,60.6L285.3,66.6L285.4,70.7L285.4,64.1L285.5,80.4L285.6,74.3L285.7,73.7L285.7,82.3L285.8,70.4L285.9,81.2L286.0,77.0L286.0,81.0L286.1,72.8L286.2,68.2L286.3,69.6L286.4,66.5L286.4,64.4L286.5,71.6L286.6,65.0L286.7,73.4L286.7,82.7L286.8,69.6L286.9,64.2L287.0,66.8L287.0,63.3L287.1,76.0L287.2,72.8L287.3,65.9L287.4,72.0L287.4,66.9L287.5,71.3L287.6,76.1L287.7,69.2L287.7,63.4L287.8,83.1L287.9,64.8L288.0,71.8L288.0,64.5L288.1,66.9L288.2,79.5L288.3,78.9L288.4,81.9L288.4,66.2L288.5,80.2L288.6,73.8L288.7,71.8L288.7,64.4L288.8,77.8L288.9,65.0L289.0,69.2L289.0,62.9L289.1,73.6L289.2,74.5L289.3,69.7L289.4,76.9L289.4,72.0L289.5,79.5L289.6,64.6L289.7,80.6L289.7,77.3L289.8,78.9L289.9,77.6L290.0,66.4L290.0,84.3L290.1,76.4L290.2,80.7L290.3,81.6L290.4,76.8L290.4,76.2L290.5,75.0L290.6,81.6L290.7,64.2L290.7,64.8L290.8,72.9L290.9,74.8L291.0,60.4L291.0,69.9L291.1,60.9L291.2,70.3L291.3,80.3L291.4,65.9L291.4,70.5L291.5,61.6L291.6,71.1L291.7,63.3L291.7,68.0L291.8,81.4L291.9,81.2L292.0,67.5L292.0,72.2L292.1,65.2L292.2,75.5L292.3,71.5L292.4,80.4L292.4,70.3L292.5,68.9L292.6,77.5L292.7,73.8L292.7,66.0L292.8,67.4L292.9,66.5L293.0,79.5L293.0,64.7L293.1,75.6L293.2,65.0L293.3,70.8L293.4,68.1L293.4,62.9L293.5,63.2L293.6,77.0L293.7,64.0L293.7,76.5L293.8,71.8L293.9,64.9L294.0,65.1L294.0,66.0L294.1,76.0L294.2,78.5L294.3,62.7L294.4,70.9L294.4,81.0L294.5,72.5L294.6,73.8L294.7,69.9L294.7,72.3L294.8,75.1L294.9,69.1L295.0,75.9L295.0,73.3L295.1,74.4L295.2,69.6L295.3,74.5L295.4,76.3L295.4,69.0L295.5,72.3L295.6,59.7L295.7,64.5L295.7,72.6L295.8,66.3L295.9,76.6L296.0,73.9L296.0,69.6L296.1,68.1L296.2,67.6L296.3,74.6L296.4,64.7L296.4,65.2L296.5,70.1L296.6,81.9L296.7,74.3L296.7,68.7L296.8,75.5L296.9,67.8L297.0,83.7L297.0,77.1L297.1,66.6L297.2,63.6L297.3,78.8L297.4,79.3L297.4,74.5L297.5,66.2L297.6,75.3L297.7,70.2L297.7,85.4L297.8,82.6L297.9,72.0L298.0,66.0L298.0,70.3L298.1,74.5L298.2,76.7L298.3,63.3L298.4,78.0L298.4,61.7L298.5,60.3L298.6,73.7L298.7,77.1L298.7,67.6L298.8,64.0L298.9,62.7L299.0,67.8L299.0,60.9L299.1,65.3L299.2,75.8L299.3,75.9L299.4,75.7L299.4,58.7L299.5,69.9L299.6,68.5L299.7,73.4L299.7,69.8L299.8,72.1L299.9,68.9L300.0,66.2L300.0,56.5L300.1,76.9L300.2,71.6L300.3,72.3L300.4,67.6L300.4,70.2L300.5,59.4L300.6,75.1L300.7,68.0L300.7,64.5L300.8,64.4L300.9,59.3L301.0,78.8L301.0,62.6L301.1,64.5L301.2,65.0L301.3,60.6L301.4,74.2L301.4,78.8L301.5,57.6L301.6,78.5L301.7,76.9L301.7,66.1L301.8,63.2L301.9,62.9L302.0,66.1L302.0,74.9L302.1,62.2L302.2,71.8L302.3,69.4L302.4,71.0L302.4,59.4L302.5,74.9L302.6,71.7L302.7,64.9L302.7,69.9L302.8,62.6L302.9,70.7L303.0,74.5L303.0,71.4L303.1,67.6L303.2,59.5L303.3,64.2L303.4,69.8L303.4,72.1L303.5,77.4L303.6,59.2L303.7,78.0L303.7,70.4L303.8,74.8L303.9,65.0L304.0,74.2L304.0,62.5L304.1,64.1L304.2,65.4L304.3,61.7L304.4,70.5L304.4,68.4L304.5,64.9L304.6,71.3L304.7,64.3L304.7,77.2L304.8,78.2L304.9,70.8L305.0,73.7L305.0,80.8L305.1,66.6L305.2,77.4L305.3,64.0L305.4,66.3L305.4,69.6L305.5,63.3L305.6,75.5L305.7,73.5L305.7,63.9L305.8,61.1L305.9,62.0L306.0,61.7L306.0,61.9L306.1,59.4L306.2,68.7L306.3,70.8L306.4,62.9L306.4,74.9L306.5,74.5L306.6,67.7L306.7,71.1L306.7,70.6L306.8,75.5L306.9,55.9L307.0,56.6L307.0,70.5L307.1,63.3L307.2,77.9L307.3,72.2L307.4,73.9L307.4,68.4L307.5,73.9L307.6,67.3L307.7,75.7L307.7,65.9L307.8,60.8L307.9,60.7L308.0,70.1L308.0,78.0L308.1,65.7L308.2,72.5L308.3,68.1L308.4,73.3L308.4,82.3L308.5,77.4L308.6,74.0L308.7,78.7L308.7,66.7L308.8,71.4L308.9,63.4L309.0,67.3L309.0,63.0L309.1,68.3L309.2,61.6L309.3,69.9L309.4,59.9L309.4,62.7L309.5,73.6L309.6,64.7L309.7,64.9L309.7,66.7L309.8,74.2L309.9,72.0L310.0,66.2L310.0,73.8L310.1,72.9L310.2,62.4L310.3,72.6L310.4,77.1L310.4,76.1L310.5,61.8L310.6,69.1L310.7,72.3L310.7,63.3L310.8,72.6L310.9,62.4L311.0,72.1L311.0,74.0L311.1,75.5L311.2,67.0L311.3,66.9L311.4,74.9L311.4,61.6L311.5,71.7L311.6,74.1L311.7,76.9L311.7,68.2L311.8,67.7L311.9,61.5L312.0,75.5L312.0,76.4L312.1,71.4L312.2,74.5L312.3,56.2L312.4,67.0L312.4,75.7L312.5,73.4L312.6,59.6L312.7,73.6L312.7,77.9L312.8,72.4L312.9,67.8L313.0,70.9L313.0,69.2L313.1,61.6L313.2,61.1L313.3,67.0L313.4,75.3L313.4,55.7L313.5,65.3L313.6,61.9L313.7,61.4L313.7,66.5L313.8,73.5L313.9,65.1L314.0,65.1L314.1,74.5L314.1,77.9L314.2,59.9L314.3,61.6L314.4,68.7L314.4,70.9L314.5,60.7L314.6,67.1L314.7,70.6L314.7,68.2L314.8,63.0L314.9,62.3L315.0,75.1L315.1,63.2L315.1,70.3L315.2,63.5L315.3,78.7L315.4,77.0L315.4,64.2L315.5,75.5L315.6,65.3L315.7,66.3L315.7,62.4L315.8,67.3L315.9,67.8L316.0,69.7L316.1,59.7L316.1,72.2L316.2,56.7L316.3,69.9L316.4,73.3L316.4,70.5L316.5,69.6L316.6,74.2L316.7,72.0L316.7,65.5L316.8,68.4L316.9,69.7L317.0,60.3L317.1,74.1L317.1,60.9L317.2,69.2L317.3,60.5L317.4,59.3L317.4,71.7L317.5,72.2L317.6,64.5L317.7,75.7L317.7,66.7L317.8,64.8L317.9,69.0L318.0,75.4L318.1,58.9L318.1,67.2L318.2,63.0L318.3,65.6L318.4,58.5L318.4,58.9L318.5,62.4L318.6,61.7L318.7,57.4L318.7,73.0L318.8,70.5L318.9,68.0L319.0,71.9L319.1,65.0L319.1,69.9L319.2,59.5L319.3,55.3L319.4,62.8L319.4,65.9L319.5,59.0L319.6,60.6L319.7,64.8L319.7,60.5L319.8,73.7L319.9,64.1L320.0,67.4L320.1,65.7L320.1,61.9L320.2,68.1L320.3,72.3L320.4,72.8L320.4,66.7L320.5,60.7L320.6,62.7L320.7,74.7L320.7,62.1L320.8,62.0L320.9,73.1L321.0,66.0L321.1,71.6L321.1,62.0L321.2,57.5L321.3,60.1L321.4,73.3L321.4,64.1L321.5,55.2L321.6,72.8L321.7,66.5L321.7,63.7L321.8,57.2L321.9,64.1L322.0,72.2L322.1,74.0L322.1,63.3L322.2,74.8L322.3,59.5L322.4,66.5L322.4,64.6L322.5,68.5L322.6,58.3L322.7,62.0L322.7,73.7L322.8,63.3L322.9,66.5L323.0,69.5L323.1,69.8L323.1,74.1L323.2,70.7L323.3,68.2L323.4,70.7L323.4,68.5L323.5,64.2L323.6,60.7L323.7,66.4L323.7,71.9L323.8,53.9L323.9,70.0L324.0,71.7L324.1,59.0L324.1,75.6L324.2,73.1L324.3,68.8L324.4,60.6L324.4,61.6L324.5,66.6L324.6,61.4L324.7,60.5L324.7,65.7L324.8,68.2L324.9,66.7L325.0,64.0L325.1,69.6L325.1,68.3L325.2,64.3L325.3,73.8L325.4,70.9L325.4,61.2L325.5,60.2L325.6,64.0L325.7,54.2L325.7,66.6L325.8,66.2L325.9,74.0L326.0,58.1L326.1,70.5L326.1,68.9L326.2,60.8L326.3,57.5L326.4,69.2L326.4,61.5L326.5,69.2L326.6,64.7L326.7,63.5L326.7,68.5L326.8,66.5L326.9,64.5L327.0,74.1L327.1,64.9L327.1,77.2L327.2,64.3L327.3,64.0L327.4,74.6L327.4,61.8L327.5,75.4L327.6,59.6L327.7,74.9L327.7,69.1L327.8,69.5L327.9,68.2L328.0,75.5L328.1,75.7L328.1,76.9L328.2,66.8L328.3,63.2L328.4,72.9L328.4,67.3L328.5,69.1L328.6,59.6L328.7,62.0L328.7,61.6L328.8,61.7L328.9,67.9L329.0,58.4L329.1,55.6L329.1,70.1L329.2,56.7L329.3,60.1L329.4,60.7L329.4,62.1L329.5,59.4L329.6,63.1L329.7,67.7L329.7,62.8L329.8,70.9L329.9,59.6L330.0,54.8L330.1,70.2L330.1,60.0L330.2,64.0L330.3,71.1L330.4,70.0L330.4,56.9L330.5,74.5L330.6,66.7L330.7,64.5L330.7,67.7L330.8,58.6L330.9,64.2L331.0,68.0L331.1,73.3L331.1,68.4L331.2,53.3L331.3,72.2L331.4,61.4L331.4,56.8L331.5,62.3L331.6,60.7L331.7,62.5L331.7,68.1L331.8,69.4L331.9,63.3L332.0,68.3L332.1,75.1L332.1,74.0L332.2,62.3L332.3,75.3L332.4,63.6L332.4,59.9L332.5,66.1L332.6,63.9L332.7,73.7L332.7,75.1L332.8,71.6L332.9,62.0L333.0,70.2L333.1,66.7L333.1,63.6L333.2,67.2L333.3,68.4L333.4,72.2L333.4,73.1L333.5,64.2L333.6,69.1L333.7,73.2L333.7,61.4L333.8,62.1L333.9,60.7L334.0,73.3L334.1,69.5L334.1,67.5L334.2,65.7L334.3,61.6L334.4,74.0L334.4,68.3L334.5,57.3L334.6,73.9L334.7,67.8L334.7,62.8L334.8,61.5L334.9,59.3L335.0,70.5L335.1,60.4L335.1,73.6L335.2,61.8L335.3,69.0L335.4,62.2L335.4,65.5L335.5,74.7L335.6,60.9L335.7,58.5L335.7,61.8L335.8,65.5L335.9,60.2L336.0,61.9L336.1,77.5L336.1,76.0L336.2,60.3L336.3,65.2L336.4,56.3L336.4,59.8L336.5,62.3L336.6,63.3L336.7,67.5L336.7,58.1L336.8,52.9L336.9,68.8L337.0,70.4L337.1,69.1L337.1,74.4L337.2,60.8L337.3,73.3L337.4,56.7L337.4,73.5L337.5,72.6L337.6,55.8L337.7,67.5L337.7,71.5L337.8,60.8L337.9,64.1L338.0,61.8L338.1,67.2L338.1,65.3L338.2,72.4L338.3,65.1L338.4,79.7L338.4,71.6L338.5,62.1L338.6,76.2L338.7,63.1L338.7,61.0L338.8,63.7L338.9,74.2L339.0,75.8L339.1,72.1L339.1,69.2L339.2,77.7L339.3,64.8L339.4,63.7L339.4,60.8L339.5,75.1L339.6,57.4L339.7,74.9L339.7,66.0L339.8,71.3L339.9,61.2L340.0,66.1L340.1,67.0L340.1,75.0L340.2,76.1L340.3,73.6L340.4,65.6L340.4,66.0L340.5,73.1L340.6,62.1L340.7,72.5L340.7,63.3L340.8,65.5L340.9,72.7L341.0,76.2L341.1,72.2L341.1,73.2L341.2,61.9L341.3,69.4L341.4,62.7L341.4,70.6L341.5,68.8L341.6,57.2L341.7,67.9L341.7,53.8L341.8,64.7L341.9,62.0L342.0,58.8L342.1,72.0L342.1,65.6L342.2,61.4L342.3,63.9L342.4,66.0L342.4,67.0L342.5,75.8L342.6,72.6L342.7,73.1L342.7,67.4L342.8,59.0L342.9,58.6L343.0,56.7L343.1,65.9L343.1,66.2L343.2,73.9L343.3,63.6L343.4,64.3L343.4,64.8L343.5,63.1L343.6,63.8L343.7,66.3L343.7,66.5L343.8,64.5L343.9,55.8L344.0,69.3L344.1,68.1L344.1,68.9L344.2,59.1L344.3,62.8L344.4,64.0L344.4,60.8L344.5,65.1L344.6,67.3L344.7,58.1L344.8,66.0L344.8,69.9L344.9,65.5L345.0,53.7L345.1,65.9L345.1,63.6L345.2,69.1L345.3,54.3L345.4,70.2L345.4,65.8L345.5,63.3L345.6,58.0L345.7,71.4L345.8,60.2L345.8,73.1L345.9,66.7L346.0,66.4L346.1,58.3L346.1,58.7L346.2,67.4L346.3,55.7L346.4,68.5L346.4,60.2L346.5,70.3L346.6,65.2L346.7,55.4L346.8,52.4L346.8,65.6L346.9,69.8L347.0,57.4L347.1,59.2L347.1,65.0L347.2,59.4L347.3,62.0L347.4,70.4L347.4,74.2L347.5,68.0L347.6,65.5L347.7,70.5L347.8,62.7L347.8,71.6L347.9,70.7L348.0,66.8L348.1,74.1L348.1,71.3L348.2,70.5L348.3,67.8L348.4,60.7L348.4,61.2L348.5,65.7L348.6,64.9L348.7,57.8L348.8,66.4L348.8,70.5L348.9,56.5L349.0,69.6L349.1,58.8L349.1,63.4L349.2,61.2L349.3,56.4L349.4,69.6L349.4,72.0L349.5,61.5L349.6,58.5L349.7,64.2L349.8,73.8L349.8,60.3L349.9,76.7L350.0,57.6L350.1,66.3L350.1,58.4L350.2,60.3L350.3,58.9L350.4,62.2L350.4,68.6L350.5,66.3L350.6,65.7L350.7,58.7L350.8,71.8L350.8,55.1L350.9,64.5L351.0,61.9L351.1,69.8L351.1,73.9L351.2,61.5L351.3,55.5L351.4,53.7L351.4,60.1L351.5,56.8L351.6,55.3L351.7,64.3L351.8,58.0L351.8,56.3L351.9,77.4L352.0,64.1L352.1,74.5L352.1,70.8L352.2,75.5L352.3,67.5L352.4,77.7L352.4,76.5L352.5,75.9L352.6,67.9L352.7,73.3L352.8,59.7L352.8,62.8L352.9,69.7L353.0,60.2L353.1,62.8L353.1,59.9L353.2,66.7L353.3,63.9L353.4,60.5L353.4,58.2L353.5,60.5L353.6,60.7L353.7,63.9L353.8,60.0L353.8,60.2L353.9,72.2L354.0,46.5L354.1,68.0L354.1,74.4L354.2,77.7L354.3,63.0L354.4,63.7L354.4,65.5L354.5,71.1L354.6,67.2L354.7,63.9L354.8,62.2L354.8,57.4L354.9,57.4L355.0,64.1L355.1,68.8L355.1,61.3L355.2,67.3L355.3,55.4L355.4,60.4L355.4,68.4L355.5,66.9L355.6,63.2L355.7,65.9L355.8,63.7L355.8,65.6L355.9,68.9L356.0,66.3L356.1,73.2L356.1,60.9L356.2,71.8L356.3,52.9L356.4,56.5L356.4,59.9L356.5,61.9L356.6,59.3L356.7,63.7L356.8,58.3L356.8,67.6L356.9,60.2L357.0,59.1L357.1,66.9L357.1,58.9L357.2,57.5L357.3,65.7L357.4,59.5L357.4,63.7L357.5,67.2L357.6,55.5L357.7,72.3L357.8,66.6L357.8,65.8L357.9,63.3L358.0,59.8L358.1,67.7L358.1,73.5L358.2,72.0L358.3,62.8L358.4,69.4L358.4,64.4L358.5,59.5L358.6,61.0L358.7,58.5L358.8,57.9L358.8,62.9L358.9,59.5L359.0,67.7L359.1,62.0L359.1,63.9L359.2,71.1L359.3,67.8L359.4,65.6L359.4,75.2L359.5,55.9L359.6,58.4L359.7,65.8L359.8,67.4L359.8,61.1L359.9,57.8L360.0,63.0L360.1,68.8L360.1,74.4L360.2,69.4L360.3,69.9L360.4,68.0L360.4,55.0L360.5,63.1L360.6,53.9L360.7,63.9L360.8,56.9L360.8,67.2L360.9,65.2L361.0,66.9L361.1,67.8L361.1,68.7L361.2,66.2L361.3,64.7L361.4,57.9L361.4,72.8L361.5,70.3L361.6,64.7L361.7,71.6L361.8,66.9L361.8,55.8L361.9,61.7L362.0,71.6L362.1,60.9L362.1,56.6L362.2,61.4L362.3,58.3L362.4,62.6L362.4,61.2L362.5,67.7L362.6,54.8L362.7,68.8L362.8,69.1L362.8,61.3L362.9,66.1L363.0,66.7L363.1,57.9L363.1,64.5L363.2,60.4L363.3,72.2L363.4,63.0L363.4,65.5L363.5,56.8L363.6,58.2L363.7,65.1L363.8,55.6L363.8,56.5L363.9,69.4L364.0,64.4L364.1,55.2L364.1,53.6L364.2,69.6L364.3,62.5L364.4,65.1L364.4,53.5L364.5,52.1L364.6,73.0L364.7,76.6L364.8,58.8L364.8,64.2L364.9,65.7L365.0,69.6L365.1,71.0L365.1,60.9L365.2,64.3L365.3,67.7L365.4,66.7L365.4,59.1L365.5,72.4L365.6,67.0L365.7,62.1L365.8,68.3L365.8,67.6L365.9,69.9L366.0,66.0L366.1,69.5L366.1,64.1L366.2,68.2L366.3,57.0L366.4,67.6L366.4,59.0L366.5,71.8L366.6,68.6L366.7,70.4L366.8,55.9L366.8,63.8L366.9,64.6L367.0,63.9L367.1,58.5L367.1,61.3L367.2,70.5L367.3,68.4L367.4,60.3L367.4,63.3L367.5,69.8L367.6,67.7L367.7,75.1L367.8,73.8L367.8,54.1L367.9,55.3L368.0,67.1L368.1,71.5L368.1,63.5L368.2,69.7L368.3,69.0L368.4,63.9L368.4,64.4L368.5,67.3L368.6,71.6L368.7,61.6L368.8,66.4L368.8,54.5L368.9,65.8L369.0,67.6L369.1,71.7L369.1,70.8L369.2,70.7L369.3,65.0L369.4,65.4L369.4,70.8L369.5,62.2L369.6,57.3L369.7,65.6L369.8,69.7L369.8,60.3L369.9,68.0L370.0,63.8L370.1,61.8L370.1,57.7L370.2,70.6L370.3,69.5L370.4,63.4L370.4,66.7L370.5,57.0L370.6,64.9L370.7,55.5L370.8,59.3L370.8,64.0L370.9,57.7L371.0,68.7L371.1,56.5L371.1,70.6L371.2,65.3L371.3,61.2L371.4,56.4L371.4,67.4L371.5,57.3L371.6,66.3L371.7,66.2L371.8,59.7L371.8,62.4L371.9,60.5L372.0,64.6L372.1,61.9L372.1,69.2L372.2,63.0L372.3,74.2L372.4,66.2L372.4,59.8L372.5,64.6L372.6,67.7L372.7,66.9L372.8,70.7L372.8,65.5L372.9,63.4L373.0,70.1L373.1,69.8L373.1,60.8L373.2,67.9L373.3,69.9L373.4,60.7L373.4,54.3L373.5,69.7L373.6,64.5L373.7,60.2L373.8,64.4L373.8,58.2L373.9,69.5L374.0,60.8L374.1,58.3L374.1,57.1L374.2,57.3L374.3,70.0L374.4,56.1L374.4,63.3L374.5,71.0L374.6,61.7L374.7,63.0L374.8,64.8L374.8,59.9L374.9,71.2L375.0,62.0L375.1,62.0L375.1,58.5L375.2,67.2L375.3,62.6L375.4,63.4L375.4,62.7L375.5,72.4L375.6,71.3L375.7,70.7L375.8,67.5L375.8,66.2L375.9,72.3L376.0,64.1L376.1,69.4L376.1,57.5L376.2,51.5L376.3,64.1L376.4,62.7L376.5,73.1L376.5,58.5L376.6,58.3L376.7,64.8L376.8,65.2L376.8,70.4L376.9,60.0L377.0,61.4L377.1,61.3L377.1,54.3L377.2,68.5L377.3,59.2L377.4,68.4L377.5,69.1L377.5,61.0L377.6,61.6L377.7,69.9L377.8,58.7L377.8,65.8L377.9,58.9L378.0,55.2L378.1,68.4L378.1,59.5L378.2,65.9L378.3,67.6L378.4,57.2L378.5,66.1L378.5,65.6L378.6,54.6L378.7,67.8L378.8,68.7L378.8,57.7L378.9,63.6L379.0,64.9L379.1,70.4L379.1,66.6L379.2,63.1L379.3,69.9L379.4,71.6L379.5,69.6L379.5,64.6L379.6,63.5L379.7,68.7L379.8,54.6L379.8,72.2L379.9,54.9L380.0,67.0L380.1,63.0L380.1,62.4L380.2,64.7L380.3,55.0L380.4,74.0L380.5,60.0L380.5,71.3L380.6,52.5L380.7,56.2L380.8,70.0L380.8,60.2L380.9,57.6L381.0,64.8L381.1,69.1L381.1,67.5L381.2,70.0L381.3,68.4L381.4,64.1L381.5,59.8L381.5,67.1L381.6,71.7L381.7,57.2L381.8,69.5L381.8,63.7L381.9,54.9L382.0,54.4L382.1,71.3L382.1,59.7L382.2,64.2L382.3,52.0L382.4,55.8L382.5,66.9L382.5,65.2L382.6,54.6L382.7,60.5L382.8,64.4L382.8,64.0L382.9,70.7L383.0,66.0L383.1,58.4L383.1,67.9L383.2,67.0L383.3,57.7L383.4,61.8L383.5,57.9L383.5,63.1L383.6,68.8L383.7,57.3L383.8,63.2L383.8,64.5L383.9,69.5L384.0,69.4L384.1,58.9L384.1,58.2L384.2,73.6L384.3,69.3L384.4,68.0L384.5,62.7L384.5,64.7L384.6,70.2L384.7,64.2L384.8,61.3L384.8,67.7L384.9,65.9L385.0,71.8L385.1,57.8L385.1,66.0L385.2,71.8L385.3,65.2L385.4,68.5L385.5,62.2L385.5,61.8L385.6,64.9L385.7,59.3L385.8,61.7L385.8,51.6L385.9,65.5L386.0,66.9L386.1,67.7L386.1,64.2L386.2,71.4L386.3,59.2L386.4,62.4L386.5,59.5L386.5,64.2L386.6,60.6L386.7,56.5L386.8,66.3L386.8,67.6L386.9,67.1L387.0,75.7L387.1,72.1L387.1,73.4L387.2,57.4L387.3,71.8L387.4,65.1L387.5,69.8L387.5,70.7L387.6,56.7L387.7,64.1L387.8,66.9L387.8,63.8L387.9,66.4L388.0,71.1L388.1,54.6L388.1,56.1L388.2,59.4L388.3,66.3L388.4,67.5L388.5,64.0L388.5,66.3L388.6,56.2L388.7,69.0L388.8,68.0L388.8,75.2L388.9,60.2L389.0,74.8L389.1,61.9L389.1,59.6L389.2,66.6L389.3,68.2L389.4,60.5L389.5,56.2L389.5,59.1L389.6,71.2L389.7,64.7L389.8,69.3L389.8,60.9L389.9,63.7L390.0,65.4L390.1,68.2L390.1,66.0L390.2,61.1L390.3,67.8L390.4,58.8L390.5,66.0L390.5,63.7L390.6,68.5L390.7,71.4L390.8,71.1L390.8,61.9L390.9,66.1L391.0,68.0L391.1,56.5L391.1,61.3L391.2,67.9L391.3,67.6" fill="none" stroke="#ff0000" stroke-width="1" stroke-linejoin="round" stroke-dasharray="2.4 1"/>
<g stroke="#000" stroke-width="1" fill="none">
<rect x="80.3" y="6.5" width="311.2" height="227.0"/>
<path stroke-width="0.8" d="M80.3,51.9h4.3M391.5,51.9h-4.3"/>
<path stroke-width="0.8" d="M80.3,97.3h4.3M391.5,97.3h-4.3"/>
<path stroke-width="0.8" d="M80.3,142.7h4.3M391.5,142.7h-4.3"/>
<path stroke-width="0.8" d="M80.3,188.1h4.3M391.5,188.1h-4.3"/>
<path stroke-width="0.8" d="M158.1,233.5v-4.3M158.1,6.5v4.3"/>
<path stroke-width="0.8" d="M235.9,233.5v-4.3M235.9,6.5v4.3"/>
<path stroke-width="0.8" d="M313.7,233.5v-4.3M313.7,6.5v4.3"/>
</g>
<text x="311.6" y="25.7" font-size="18" text-anchor="end">with slide</text>
<text x="311.6" y="43.7" font-size="18" text-anchor="end">no slide</text>
<path d="M322.2,19.4H369.8" stroke="#0000ff" stroke-width="0.85" fill="none"/>
<path d="M322.2,37.4H369.8" stroke="#ff0000" stroke-width="0.9" fill="none" stroke-dasharray="2.4 1"/>
<rect x="176.4" y="99.5" width="182.0" height="105.0" fill="#fff" stroke="none"/>
<path d="M176.4,99.5L215.4,204.5" stroke="#ff00ff" stroke-width="1.5" fill="none" stroke-dasharray="1.5 0.5"/>
<polyline points="176.4,99.5 178.6,108.5 181.4,118.0 184.7,127.6 188.6,136.3 190.0,137.8 191.5,139.7 193.9,144.0 196.1,150.0 199.0,160.0 201.9,169.3 203.5,180.0 204.8,188.7 206.5,192.5 208.7,196.4 209.5,199.5 210.2,201.8 211.0,198.5 212.2,194.9 213.5,197.0 214.9,199.3 216.4,199.9 218.0,194.0 220.7,181.9 222.2,178.0 223.4,177.1 224.5,179.5 225.7,184.8 227.2,194.0 228.6,204.2" fill="none" stroke="#0000ff" stroke-width="1.3" stroke-linejoin="round"/>
<polyline points="176.4,99.5 190.0,104.4 205.0,109.1 212.0,110.8 218.0,112.0 225.0,113.7 232.0,115.8 240.0,118.3 246.0,120.8 250.0,123.3 258.0,125.8 264.0,127.2 270.0,128.2 275.0,130.0 279.0,132.3 285.0,134.5 290.0,135.4 295.0,136.1 300.0,137.9 304.0,140.2 310.0,142.4 315.0,143.8 317.7,144.8 323.0,147.5 329.0,152.2 332.5,158.0 335.8,164.8 340.6,170.5 343.5,176.4 346.0,179.0 348.7,184.5 350.2,190.0 351.3,195.1 352.3,200.0 353.2,204.4" fill="none" stroke="#ff0000" stroke-width="1.3" stroke-linejoin="round"/>
<path d="M176.4,99.5L358.4,156.6" stroke="#00ff00" stroke-width="1.3" fill="none" stroke-dasharray="1.35 0.6"/>
<g stroke="#5c5c5c" stroke-width="0.95" fill="none">
<rect x="176.4" y="99.5" width="182.0" height="105.0"/>
<path d="M176.4,180.4h2.6M358.4,180.4h-2.6"/>
<path d="M176.4,103.2h1.4M358.4,103.2h-1.4"/>
<path d="M176.4,107.3h1.4M358.4,107.3h-1.4"/>
<path d="M176.4,112.0h1.4M358.4,112.0h-1.4"/>
<path d="M176.4,117.4h1.4M358.4,117.4h-1.4"/>
<path d="M176.4,123.9h1.4M358.4,123.9h-1.4"/>
<path d="M176.4,131.7h1.4M358.4,131.7h-1.4"/>
<path d="M176.4,141.8h1.4M358.4,141.8h-1.4"/>
<path d="M176.4,156.0h1.4M358.4,156.0h-1.4"/>
<path d="M176.4,184.1h1.4M358.4,184.1h-1.4"/>
<path d="M176.4,188.2h1.4M358.4,188.2h-1.4"/>
<path d="M176.4,192.9h1.4M358.4,192.9h-1.4"/>
<path d="M176.4,198.3h1.4M358.4,198.3h-1.4"/>
<path d="M237.1,204.5v-2.2M237.1,99.5v2.2"/>
<path d="M297.7,204.5v-2.2M297.7,99.5v2.2"/>
</g>
<text transform="translate(178.3,219.3) scale(0.1220,0.1)" font-size="102.0" text-anchor="middle">0</text>
<text transform="translate(239.4,219.3) scale(0.1220,0.1)" font-size="102.0" text-anchor="middle">400</text>
<text transform="translate(299.7,219.3) scale(0.1220,0.1)" font-size="102.0" text-anchor="middle">800</text>
<text transform="translate(360.4,219.3) scale(0.1220,0.1)" font-size="102.0" text-anchor="middle">1200</text>
<text transform="translate(267.1,229.6) scale(0.1220,0.1)" font-size="102.0" text-anchor="middle">t</text>
<text transform="translate(167.6,103.1) scale(0.1220,0.1)" font-size="102.0" text-anchor="end">1</text>
<text transform="translate(167.3,183.8) scale(0.1140,0.1)" font-size="102.0" text-anchor="end">0.1</text>
<text transform="translate(151.0,152.1) rotate(-90) scale(0.1,0.1220)" font-size="102.0" text-anchor="middle">C(t)</text>
<text transform="translate(302.4,108.9) scale(0.1260,0.1)" font-size="102.0" text-anchor="end">τ<tspan font-size="84" dy="38">ws</tspan><tspan dy="-38">=82</tspan></text>
<text transform="translate(301.8,120.1) scale(0.1260,0.1)" font-size="102.0" text-anchor="end">τ<tspan font-size="84" dy="38">ns</tspan><tspan dy="-38">=731</tspan></text>
<path d="M309.8,106.5H343.2" stroke="#ff00ff" stroke-width="0.85" fill="none" stroke-dasharray="1.1 0.85"/>
<path d="M309.8,117.4H343.2" stroke="#00ff00" stroke-width="0.85" fill="none" stroke-dasharray="1.1 0.85"/>
</svg></body></html>
